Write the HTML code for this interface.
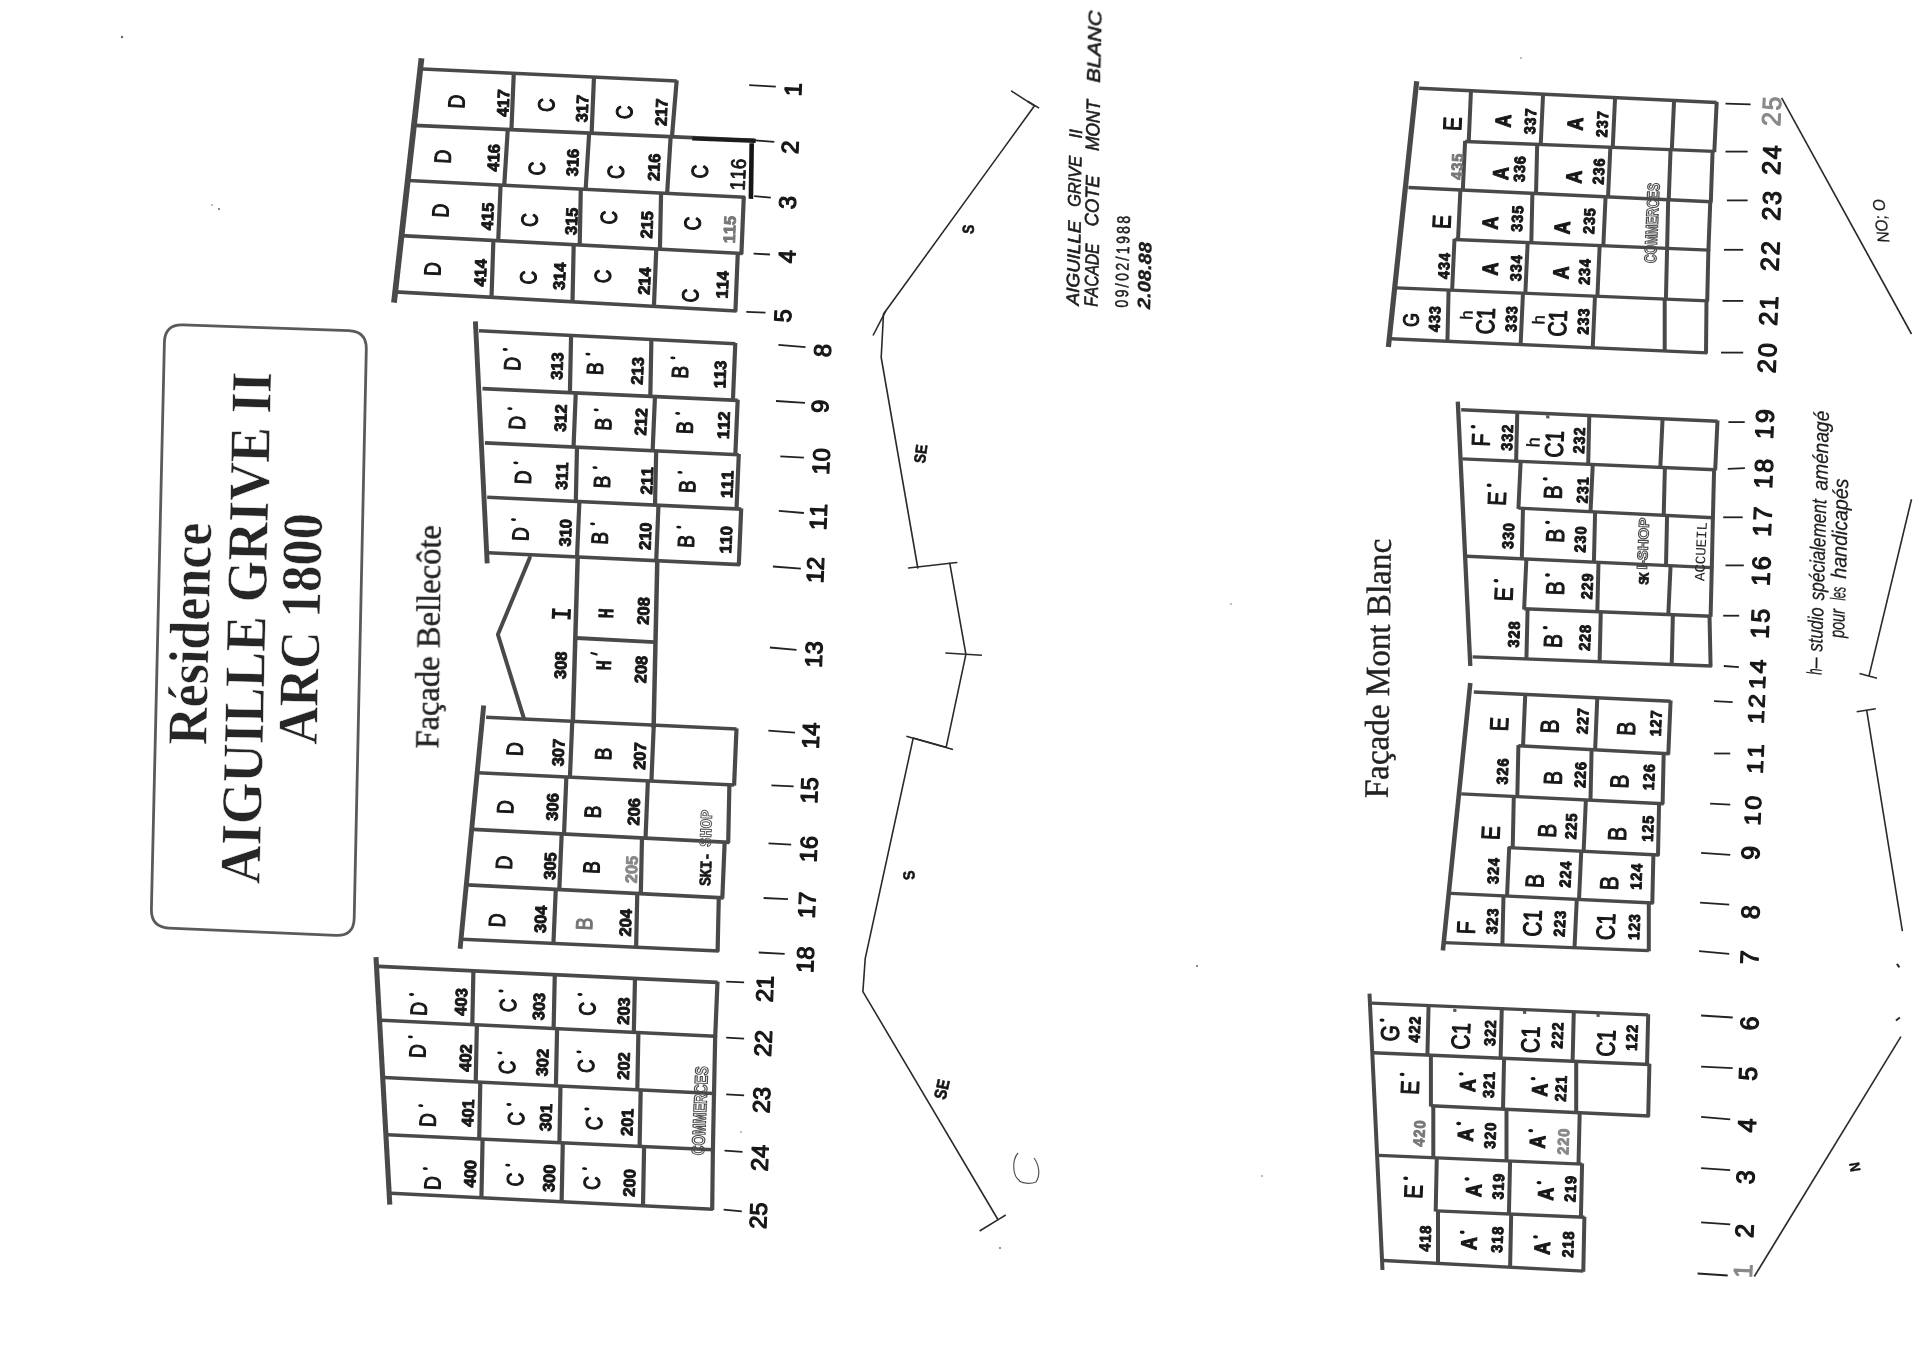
<!DOCTYPE html>
<html><head><meta charset="utf-8"><title>Aiguille Grive II</title>
<style>
html,body{margin:0;padding:0;background:#fff;}
body{width:1920px;height:1355px;overflow:hidden;font-family:"Liberation Sans",sans-serif;}
svg{display:block;}
svg text{font-kerning:none;}
</style></head><body>
<svg width="1920" height="1355" viewBox="0 0 1920 1355">
<defs><filter id="bl" x="-5%" y="-5%" width="110%" height="110%"><feGaussianBlur stdDeviation="0.45"/></filter></defs>
<rect width="1920" height="1355" fill="#fff"/>
<g filter="url(#bl)">
<line x1="422.7" y1="69" x2="676.7" y2="81" stroke="#4a4a4a" stroke-width="3.6" stroke-linecap="butt"/>
<line x1="513.8" y1="72.6" x2="511.4" y2="130.4" stroke="#4a4a4a" stroke-width="4.2" stroke-linecap="butt"/>
<line x1="594" y1="76.4" x2="591.6" y2="133.9" stroke="#4a4a4a" stroke-width="4.2" stroke-linecap="butt"/>
<line x1="676.7" y1="80.3" x2="671.9" y2="137.5" stroke="#4a4a4a" stroke-width="4.2" stroke-linecap="butt"/>
<line x1="414.3" y1="125.4" x2="754.5" y2="140.4" stroke="#4a4a4a" stroke-width="3.6" stroke-linecap="butt"/>
<line x1="507.8" y1="128.8" x2="504.2" y2="185.9" stroke="#4a4a4a" stroke-width="4.2" stroke-linecap="butt"/>
<line x1="589.2" y1="132.4" x2="585.6" y2="190" stroke="#4a4a4a" stroke-width="4.2" stroke-linecap="butt"/>
<line x1="670.7" y1="136" x2="667.1" y2="194.1" stroke="#4a4a4a" stroke-width="4.2" stroke-linecap="butt"/>
<line x1="408.4" y1="180.5" x2="745" y2="197.2" stroke="#4a4a4a" stroke-width="3.6" stroke-linecap="butt"/>
<line x1="500.6" y1="184.3" x2="498.2" y2="241.4" stroke="#4a4a4a" stroke-width="4.2" stroke-linecap="butt"/>
<line x1="580.8" y1="188.3" x2="579.7" y2="245.7" stroke="#4a4a4a" stroke-width="4.2" stroke-linecap="butt"/>
<line x1="661.1" y1="192.3" x2="659.9" y2="249.9" stroke="#4a4a4a" stroke-width="4.2" stroke-linecap="butt"/>
<line x1="743.8" y1="196.4" x2="741.4" y2="254.2" stroke="#4a4a4a" stroke-width="4.2" stroke-linecap="butt"/>
<line x1="401.2" y1="235.6" x2="742.6" y2="253.5" stroke="#4a4a4a" stroke-width="3.6" stroke-linecap="butt"/>
<line x1="493.4" y1="239.7" x2="491.5" y2="298" stroke="#4a4a4a" stroke-width="4.2" stroke-linecap="butt"/>
<line x1="573.7" y1="243.9" x2="572.5" y2="302.5" stroke="#4a4a4a" stroke-width="4.2" stroke-linecap="butt"/>
<line x1="656.3" y1="248.3" x2="653.9" y2="307.1" stroke="#4a4a4a" stroke-width="4.2" stroke-linecap="butt"/>
<line x1="737.8" y1="252.6" x2="735.4" y2="311.7" stroke="#4a4a4a" stroke-width="4.2" stroke-linecap="butt"/>
<line x1="395.2" y1="291.9" x2="736.6" y2="311" stroke="#4a4a4a" stroke-width="3.6" stroke-linecap="butt"/>
<line x1="421.5" y1="58.3" x2="394" y2="302.6" stroke="#4a4a4a" stroke-width="5.8" stroke-linecap="butt"/>
<line x1="692.3" y1="138.5" x2="755.7" y2="140.9" stroke="#1a1a1a" stroke-width="4.2" stroke-linecap="butt"/>
<line x1="751.7" y1="143.3" x2="750.9" y2="198.9" stroke="#161616" stroke-width="4.6" stroke-linecap="butt"/>
<text transform="translate(456.3,101.4) rotate(-87.4) scale(1.000,1.220)" font-family="Liberation Sans" font-size="19" text-anchor="middle" y="6.8" fill="#151515" stroke="#151515" stroke-width="0.9" stroke-linejoin="round">D</text>
<text transform="translate(546.1,105) rotate(-87.4) scale(1.000,1.220)" font-family="Liberation Sans" font-size="19" text-anchor="middle" y="6.8" fill="#151515" stroke="#151515" stroke-width="0.9" stroke-linejoin="round">C</text>
<text transform="translate(624,112.2) rotate(-87.4) scale(1.000,1.220)" font-family="Liberation Sans" font-size="19" text-anchor="middle" y="6.8" fill="#151515" stroke="#151515" stroke-width="0.9" stroke-linejoin="round">C</text>
<text transform="translate(442.6,156.5) rotate(-87.4) scale(1.000,1.220)" font-family="Liberation Sans" font-size="19" text-anchor="middle" y="6.8" fill="#151515" stroke="#151515" stroke-width="0.9" stroke-linejoin="round">D</text>
<text transform="translate(536.5,168.5) rotate(-87.4) scale(1.000,1.220)" font-family="Liberation Sans" font-size="19" text-anchor="middle" y="6.8" fill="#151515" stroke="#151515" stroke-width="0.9" stroke-linejoin="round">C</text>
<text transform="translate(615.6,172.1) rotate(-87.4) scale(1.000,1.220)" font-family="Liberation Sans" font-size="19" text-anchor="middle" y="6.8" fill="#151515" stroke="#151515" stroke-width="0.9" stroke-linejoin="round">C</text>
<text transform="translate(699.4,171.6) rotate(-87.4) scale(1.000,1.220)" font-family="Liberation Sans" font-size="19" text-anchor="middle" y="6.8" fill="#151515" stroke="#151515" stroke-width="0.9" stroke-linejoin="round">C</text>
<text transform="translate(440.2,210.4) rotate(-87.4) scale(1.000,1.220)" font-family="Liberation Sans" font-size="19" text-anchor="middle" y="6.8" fill="#151515" stroke="#151515" stroke-width="0.9" stroke-linejoin="round">D</text>
<text transform="translate(529.3,220) rotate(-87.4) scale(1.000,1.220)" font-family="Liberation Sans" font-size="19" text-anchor="middle" y="6.8" fill="#151515" stroke="#151515" stroke-width="0.9" stroke-linejoin="round">C</text>
<text transform="translate(608.4,217.6) rotate(-87.4) scale(1.000,1.220)" font-family="Liberation Sans" font-size="19" text-anchor="middle" y="6.8" fill="#151515" stroke="#151515" stroke-width="0.9" stroke-linejoin="round">C</text>
<text transform="translate(692.3,223.6) rotate(-87.4) scale(1.000,1.220)" font-family="Liberation Sans" font-size="19" text-anchor="middle" y="6.8" fill="#151515" stroke="#151515" stroke-width="0.9" stroke-linejoin="round">C</text>
<text transform="translate(432.3,269.1) rotate(-87.4) scale(1.000,1.220)" font-family="Liberation Sans" font-size="19" text-anchor="middle" y="6.8" fill="#151515" stroke="#151515" stroke-width="0.9" stroke-linejoin="round">D</text>
<text transform="translate(528.1,277.5) rotate(-87.4) scale(1.000,1.220)" font-family="Liberation Sans" font-size="19" text-anchor="middle" y="6.8" fill="#151515" stroke="#151515" stroke-width="0.9" stroke-linejoin="round">C</text>
<text transform="translate(602.4,276.3) rotate(-87.4) scale(1.000,1.220)" font-family="Liberation Sans" font-size="19" text-anchor="middle" y="6.8" fill="#151515" stroke="#151515" stroke-width="0.9" stroke-linejoin="round">C</text>
<text transform="translate(689.9,295.5) rotate(-87.4) scale(1.000,1.220)" font-family="Liberation Sans" font-size="19" text-anchor="middle" y="6.8" fill="#151515" stroke="#151515" stroke-width="0.9" stroke-linejoin="round">C</text>
<text transform="translate(503,103.1) rotate(-87.4)" font-family="Liberation Sans" font-size="16.5" text-anchor="middle" y="5.9" fill="#151515" font-weight="bold" stroke="#151515" stroke-width="0.9" stroke-linejoin="round">417</text>
<text transform="translate(582,108.6) rotate(-87.4)" font-family="Liberation Sans" font-size="16.5" text-anchor="middle" y="5.9" fill="#151515" font-weight="bold" stroke="#151515" stroke-width="0.9" stroke-linejoin="round">317</text>
<text transform="translate(661.1,112.2) rotate(-87.4)" font-family="Liberation Sans" font-size="16.5" text-anchor="middle" y="5.9" fill="#151515" font-weight="bold" stroke="#151515" stroke-width="0.9" stroke-linejoin="round">217</text>
<text transform="translate(493.4,157.7) rotate(-87.4)" font-family="Liberation Sans" font-size="16.5" text-anchor="middle" y="5.9" fill="#151515" font-weight="bold" stroke="#151515" stroke-width="0.9" stroke-linejoin="round">416</text>
<text transform="translate(572.5,162.5) rotate(-87.4)" font-family="Liberation Sans" font-size="16.5" text-anchor="middle" y="5.9" fill="#151515" font-weight="bold" stroke="#151515" stroke-width="0.9" stroke-linejoin="round">316</text>
<text transform="translate(653.9,167.3) rotate(-87.4)" font-family="Liberation Sans" font-size="16.5" text-anchor="middle" y="5.9" fill="#151515" font-weight="bold" stroke="#151515" stroke-width="0.9" stroke-linejoin="round">216</text>
<text transform="translate(487.4,216.4) rotate(-87.4)" font-family="Liberation Sans" font-size="16.5" text-anchor="middle" y="5.9" fill="#151515" font-weight="bold" stroke="#151515" stroke-width="0.9" stroke-linejoin="round">415</text>
<text transform="translate(571.3,221.2) rotate(-87.4)" font-family="Liberation Sans" font-size="16.5" text-anchor="middle" y="5.9" fill="#151515" font-weight="bold" stroke="#151515" stroke-width="0.9" stroke-linejoin="round">315</text>
<text transform="translate(646.7,224.8) rotate(-87.4)" font-family="Liberation Sans" font-size="16.5" text-anchor="middle" y="5.9" fill="#151515" font-weight="bold" stroke="#151515" stroke-width="0.9" stroke-linejoin="round">215</text>
<text transform="translate(480.2,272.7) rotate(-87.4)" font-family="Liberation Sans" font-size="16.5" text-anchor="middle" y="5.9" fill="#151515" font-weight="bold" stroke="#151515" stroke-width="0.9" stroke-linejoin="round">414</text>
<text transform="translate(559.3,276.3) rotate(-87.4)" font-family="Liberation Sans" font-size="16.5" text-anchor="middle" y="5.9" fill="#151515" font-weight="bold" stroke="#151515" stroke-width="0.9" stroke-linejoin="round">314</text>
<text transform="translate(644.3,281.1) rotate(-87.4)" font-family="Liberation Sans" font-size="16.5" text-anchor="middle" y="5.9" fill="#151515" font-weight="bold" stroke="#151515" stroke-width="0.9" stroke-linejoin="round">214</text>
<text transform="translate(722.2,284.7) rotate(-87.4)" font-family="Liberation Sans" font-size="16.5" text-anchor="middle" y="5.9" fill="#151515" font-weight="bold" stroke="#151515" stroke-width="0.9" stroke-linejoin="round">114</text>
<text transform="translate(729.4,229.6) rotate(-87.4)" font-family="Liberation Sans" font-size="16.5" text-anchor="middle" y="5.9" fill="#777" font-weight="bold" stroke="#777" stroke-width="0.9" stroke-linejoin="round">115</text>
<text transform="translate(737.8,174.5) rotate(-87.4) scale(1.000,1.100)" font-family="Liberation Sans" font-size="19" text-anchor="middle" y="6.8" fill="#151515" stroke="#151515" stroke-width="0.8" stroke-linejoin="round">116</text>
<line x1="479" y1="330.7" x2="735.3" y2="343.7" stroke="#4a4a4a" stroke-width="3.6" stroke-linecap="butt"/>
<line x1="571.1" y1="334.7" x2="569.9" y2="393.3" stroke="#4a4a4a" stroke-width="4.2" stroke-linecap="butt"/>
<line x1="651.4" y1="338.7" x2="650.3" y2="397.1" stroke="#4a4a4a" stroke-width="4.2" stroke-linecap="butt"/>
<line x1="735.3" y1="343" x2="732.9" y2="400.9" stroke="#4a4a4a" stroke-width="4.2" stroke-linecap="butt"/>
<line x1="482.5" y1="388.6" x2="737.7" y2="400.4" stroke="#4a4a4a" stroke-width="3.6" stroke-linecap="butt"/>
<line x1="575.8" y1="392.2" x2="573.5" y2="447.8" stroke="#4a4a4a" stroke-width="4.2" stroke-linecap="butt"/>
<line x1="655" y1="395.9" x2="652.6" y2="451.4" stroke="#4a4a4a" stroke-width="4.2" stroke-linecap="butt"/>
<line x1="737.7" y1="399.7" x2="735.3" y2="455.3" stroke="#4a4a4a" stroke-width="4.2" stroke-linecap="butt"/>
<line x1="484.9" y1="442.9" x2="738.8" y2="454.7" stroke="#4a4a4a" stroke-width="3.6" stroke-linecap="butt"/>
<line x1="577" y1="446.5" x2="575.8" y2="502.1" stroke="#4a4a4a" stroke-width="4.2" stroke-linecap="butt"/>
<line x1="656.2" y1="450.2" x2="655" y2="505.8" stroke="#4a4a4a" stroke-width="4.2" stroke-linecap="butt"/>
<line x1="738.8" y1="454" x2="736.5" y2="509.6" stroke="#4a4a4a" stroke-width="4.2" stroke-linecap="butt"/>
<line x1="487.2" y1="497.3" x2="741.2" y2="509.1" stroke="#4a4a4a" stroke-width="3.6" stroke-linecap="butt"/>
<line x1="579.4" y1="500.8" x2="577" y2="557.6" stroke="#4a4a4a" stroke-width="4.2" stroke-linecap="butt"/>
<line x1="658.5" y1="504.5" x2="656.2" y2="561.4" stroke="#4a4a4a" stroke-width="4.2" stroke-linecap="butt"/>
<line x1="741.2" y1="508.4" x2="738.8" y2="565.2" stroke="#4a4a4a" stroke-width="4.2" stroke-linecap="butt"/>
<line x1="488.4" y1="552.8" x2="740" y2="564.6" stroke="#4a4a4a" stroke-width="3.6" stroke-linecap="butt"/>
<line x1="475.4" y1="321.3" x2="487.2" y2="563.4" stroke="#4a4a4a" stroke-width="4.9" stroke-linecap="butt"/>
<text transform="translate(512.1,363.8) rotate(-87.4) scale(1.000,1.220)" font-family="Liberation Sans" font-size="19" text-anchor="middle" y="6.8" fill="#151515" stroke="#151515" stroke-width="0.9" stroke-linejoin="round">D</text>
<ellipse cx="505.2" cy="349.5" rx="2.6" ry="1.4" fill="#151515" transform="rotate(2.6 505.2 349.5)"/>
<text transform="translate(594.7,368.5) rotate(-87.4) scale(1.000,1.220)" font-family="Liberation Sans" font-size="19" text-anchor="middle" y="6.8" fill="#151515" stroke="#151515" stroke-width="0.9" stroke-linejoin="round">B</text>
<ellipse cx="587.9" cy="354.2" rx="2.6" ry="1.4" fill="#151515" transform="rotate(2.6 587.9 354.2)"/>
<text transform="translate(679.8,372.1) rotate(-87.4) scale(1.000,1.220)" font-family="Liberation Sans" font-size="19" text-anchor="middle" y="6.8" fill="#151515" stroke="#151515" stroke-width="0.9" stroke-linejoin="round">B</text>
<ellipse cx="672.9" cy="357.8" rx="2.6" ry="1.4" fill="#151515" transform="rotate(2.6 672.9 357.8)"/>
<text transform="translate(516.8,422.8) rotate(-87.4) scale(1.000,1.220)" font-family="Liberation Sans" font-size="19" text-anchor="middle" y="6.8" fill="#151515" stroke="#151515" stroke-width="0.9" stroke-linejoin="round">D</text>
<ellipse cx="509.9" cy="408.6" rx="2.6" ry="1.4" fill="#151515" transform="rotate(2.6 509.9 408.6)"/>
<text transform="translate(603,424) rotate(-87.4) scale(1.000,1.220)" font-family="Liberation Sans" font-size="19" text-anchor="middle" y="6.8" fill="#151515" stroke="#151515" stroke-width="0.9" stroke-linejoin="round">B</text>
<ellipse cx="596.2" cy="409.8" rx="2.6" ry="1.4" fill="#151515" transform="rotate(2.6 596.2 409.8)"/>
<text transform="translate(684.5,427.6) rotate(-87.4) scale(1.000,1.220)" font-family="Liberation Sans" font-size="19" text-anchor="middle" y="6.8" fill="#151515" stroke="#151515" stroke-width="0.9" stroke-linejoin="round">B</text>
<ellipse cx="677.7" cy="413.3" rx="2.6" ry="1.4" fill="#151515" transform="rotate(2.6 677.7 413.3)"/>
<text transform="translate(522.7,477.2) rotate(-87.4) scale(1.000,1.220)" font-family="Liberation Sans" font-size="19" text-anchor="middle" y="6.8" fill="#151515" stroke="#151515" stroke-width="0.9" stroke-linejoin="round">D</text>
<ellipse cx="515.8" cy="462.9" rx="2.6" ry="1.4" fill="#151515" transform="rotate(2.6 515.8 462.9)"/>
<text transform="translate(601.8,481.9) rotate(-87.4) scale(1.000,1.220)" font-family="Liberation Sans" font-size="19" text-anchor="middle" y="6.8" fill="#151515" stroke="#151515" stroke-width="0.9" stroke-linejoin="round">B</text>
<ellipse cx="595" cy="467.6" rx="2.6" ry="1.4" fill="#151515" transform="rotate(2.6 595 467.6)"/>
<text transform="translate(686.9,486.6) rotate(-87.4) scale(1.000,1.220)" font-family="Liberation Sans" font-size="19" text-anchor="middle" y="6.8" fill="#151515" stroke="#151515" stroke-width="0.9" stroke-linejoin="round">B</text>
<ellipse cx="680" cy="472.4" rx="2.6" ry="1.4" fill="#151515" transform="rotate(2.6 680 472.4)"/>
<text transform="translate(520.3,533.9) rotate(-87.4) scale(1.000,1.220)" font-family="Liberation Sans" font-size="19" text-anchor="middle" y="6.8" fill="#151515" stroke="#151515" stroke-width="0.9" stroke-linejoin="round">D</text>
<ellipse cx="513.5" cy="519.6" rx="2.6" ry="1.4" fill="#151515" transform="rotate(2.6 513.5 519.6)"/>
<text transform="translate(599.5,538.1) rotate(-87.4) scale(1.000,1.220)" font-family="Liberation Sans" font-size="19" text-anchor="middle" y="6.8" fill="#151515" stroke="#151515" stroke-width="0.9" stroke-linejoin="round">B</text>
<ellipse cx="592.6" cy="523.9" rx="2.6" ry="1.4" fill="#151515" transform="rotate(2.6 592.6 523.9)"/>
<text transform="translate(685.7,541.4) rotate(-87.4) scale(1.000,1.220)" font-family="Liberation Sans" font-size="19" text-anchor="middle" y="6.8" fill="#151515" stroke="#151515" stroke-width="0.9" stroke-linejoin="round">B</text>
<ellipse cx="678.8" cy="527.2" rx="2.6" ry="1.4" fill="#151515" transform="rotate(2.6 678.8 527.2)"/>
<text transform="translate(556.9,366.1) rotate(-87.4)" font-family="Liberation Sans" font-size="16.5" text-anchor="middle" y="5.9" fill="#151515" font-weight="bold" stroke="#151515" stroke-width="0.9" stroke-linejoin="round">313</text>
<text transform="translate(637.3,370.9) rotate(-87.4)" font-family="Liberation Sans" font-size="16.5" text-anchor="middle" y="5.9" fill="#151515" font-weight="bold" stroke="#151515" stroke-width="0.9" stroke-linejoin="round">213</text>
<text transform="translate(719.9,374.4) rotate(-87.4)" font-family="Liberation Sans" font-size="16.5" text-anchor="middle" y="5.9" fill="#151515" font-weight="bold" stroke="#151515" stroke-width="0.9" stroke-linejoin="round">113</text>
<text transform="translate(560.5,418.1) rotate(-87.4)" font-family="Liberation Sans" font-size="16.5" text-anchor="middle" y="5.9" fill="#151515" font-weight="bold" stroke="#151515" stroke-width="0.9" stroke-linejoin="round">312</text>
<text transform="translate(640.8,421.7) rotate(-87.4)" font-family="Liberation Sans" font-size="16.5" text-anchor="middle" y="5.9" fill="#151515" font-weight="bold" stroke="#151515" stroke-width="0.9" stroke-linejoin="round">212</text>
<text transform="translate(723.5,425.2) rotate(-87.4)" font-family="Liberation Sans" font-size="16.5" text-anchor="middle" y="5.9" fill="#151515" font-weight="bold" stroke="#151515" stroke-width="0.9" stroke-linejoin="round">112</text>
<text transform="translate(561.7,476) rotate(-87.4)" font-family="Liberation Sans" font-size="16.5" text-anchor="middle" y="5.9" fill="#151515" font-weight="bold" stroke="#151515" stroke-width="0.9" stroke-linejoin="round">311</text>
<text transform="translate(646.7,480.7) rotate(-87.4)" font-family="Liberation Sans" font-size="16.5" text-anchor="middle" y="5.9" fill="#151515" font-weight="bold" stroke="#151515" stroke-width="0.9" stroke-linejoin="round">211</text>
<text transform="translate(727,484.3) rotate(-87.4)" font-family="Liberation Sans" font-size="16.5" text-anchor="middle" y="5.9" fill="#151515" font-weight="bold" stroke="#151515" stroke-width="0.9" stroke-linejoin="round">111</text>
<text transform="translate(565.2,532.7) rotate(-87.4)" font-family="Liberation Sans" font-size="16.5" text-anchor="middle" y="5.9" fill="#151515" font-weight="bold" stroke="#151515" stroke-width="0.9" stroke-linejoin="round">310</text>
<text transform="translate(645.1,536.2) rotate(-87.4)" font-family="Liberation Sans" font-size="16.5" text-anchor="middle" y="5.9" fill="#151515" font-weight="bold" stroke="#151515" stroke-width="0.9" stroke-linejoin="round">210</text>
<text transform="translate(725.8,539.8) rotate(-87.4)" font-family="Liberation Sans" font-size="16.5" text-anchor="middle" y="5.9" fill="#151515" font-weight="bold" stroke="#151515" stroke-width="0.9" stroke-linejoin="round">110</text>
<line x1="577.7" y1="556.5" x2="572.8" y2="723.1" stroke="#4a4a4a" stroke-width="4.5" stroke-linecap="butt"/>
<line x1="657.3" y1="560.1" x2="653.6" y2="727.8" stroke="#4a4a4a" stroke-width="4.5" stroke-linecap="butt"/>
<line x1="576.5" y1="638" x2="654.5" y2="642.1" stroke="#4a4a4a" stroke-width="3.9" stroke-linecap="butt"/>
<polyline points="529.8,557.7 497.9,634.5 523.9,718.4" fill="none" stroke="#4a4a4a" stroke-width="4" stroke-linejoin="round" stroke-linecap="round"/>
<text transform="translate(560.5,613.9) rotate(-87.4) scale(1.000,1.250)" font-family="Liberation Mono" font-size="23" text-anchor="middle" y="8.2" fill="#151515" font-weight="bold">I</text>
<text transform="translate(605.4,613.2) rotate(-87.4) scale(1.000,1.300)" font-family="Liberation Mono" font-size="17" text-anchor="middle" y="6.1" fill="#151515" font-weight="bold" stroke="#151515" stroke-width="0.4" stroke-linejoin="round">H</text>
<text transform="translate(603,665.2) rotate(-87.4) scale(1.000,1.300)" font-family="Liberation Mono" font-size="17" text-anchor="middle" y="6.1" fill="#151515" font-weight="bold" stroke="#151515" stroke-width="0.4" stroke-linejoin="round">H</text>
<line x1="591.4" y1="653" x2="596.6" y2="654.4" stroke="#1a1a1a" stroke-width="2.2" stroke-linecap="round"/>
<text transform="translate(560.5,665.2) rotate(-87.4)" font-family="Liberation Sans" font-size="16.5" text-anchor="middle" y="5.9" fill="#151515" font-weight="bold" stroke="#151515" stroke-width="0.9" stroke-linejoin="round">308</text>
<text transform="translate(643.2,610.9) rotate(-87.4)" font-family="Liberation Sans" font-size="16.5" text-anchor="middle" y="5.9" fill="#151515" font-weight="bold" stroke="#151515" stroke-width="0.9" stroke-linejoin="round">208</text>
<text transform="translate(640.8,669.5) rotate(-87.4)" font-family="Liberation Sans" font-size="16.5" text-anchor="middle" y="5.9" fill="#151515" font-weight="bold" stroke="#151515" stroke-width="0.9" stroke-linejoin="round">208</text>
<line x1="486.1" y1="717.2" x2="736.5" y2="729" stroke="#4a4a4a" stroke-width="3.6" stroke-linecap="butt"/>
<line x1="572.3" y1="720.5" x2="569.9" y2="777.8" stroke="#4a4a4a" stroke-width="4.2" stroke-linecap="butt"/>
<line x1="653.8" y1="724.4" x2="651.4" y2="781.7" stroke="#4a4a4a" stroke-width="4.2" stroke-linecap="butt"/>
<line x1="736.5" y1="728.3" x2="734.1" y2="785.7" stroke="#4a4a4a" stroke-width="4.2" stroke-linecap="butt"/>
<line x1="477.8" y1="772.7" x2="734.1" y2="785" stroke="#4a4a4a" stroke-width="3.6" stroke-linecap="butt"/>
<line x1="566.4" y1="776.2" x2="564" y2="834.7" stroke="#4a4a4a" stroke-width="4.2" stroke-linecap="butt"/>
<line x1="647.9" y1="780.1" x2="645.5" y2="838.8" stroke="#4a4a4a" stroke-width="4.2" stroke-linecap="butt"/>
<line x1="729.4" y1="784" x2="728.2" y2="843" stroke="#4a4a4a" stroke-width="4.2" stroke-linecap="butt"/>
<line x1="473.1" y1="829.4" x2="729.4" y2="842.4" stroke="#4a4a4a" stroke-width="3.6" stroke-linecap="butt"/>
<line x1="561.7" y1="833.2" x2="559.3" y2="890.3" stroke="#4a4a4a" stroke-width="4.2" stroke-linecap="butt"/>
<line x1="642" y1="837.2" x2="640.8" y2="894.4" stroke="#4a4a4a" stroke-width="4.2" stroke-linecap="butt"/>
<line x1="724.7" y1="841.4" x2="722.3" y2="898.5" stroke="#4a4a4a" stroke-width="4.2" stroke-linecap="butt"/>
<line x1="467.2" y1="884.9" x2="723.5" y2="897.9" stroke="#4a4a4a" stroke-width="3.6" stroke-linecap="butt"/>
<line x1="555.8" y1="888.7" x2="553.4" y2="944.1" stroke="#4a4a4a" stroke-width="4.2" stroke-linecap="butt"/>
<line x1="637.3" y1="892.8" x2="636.1" y2="947.9" stroke="#4a4a4a" stroke-width="4.2" stroke-linecap="butt"/>
<line x1="718.8" y1="896.9" x2="717.6" y2="951.7" stroke="#4a4a4a" stroke-width="4.2" stroke-linecap="butt"/>
<line x1="462.4" y1="939.2" x2="718.8" y2="951" stroke="#4a4a4a" stroke-width="3.6" stroke-linecap="butt"/>
<line x1="483.7" y1="705.4" x2="460.1" y2="948.7" stroke="#4a4a4a" stroke-width="4.9" stroke-linecap="butt"/>
<text transform="translate(514.4,749.1) rotate(-87.4) scale(1.000,1.220)" font-family="Liberation Sans" font-size="19" text-anchor="middle" y="6.8" fill="#151515" stroke="#151515" stroke-width="0.9" stroke-linejoin="round">D</text>
<text transform="translate(603,753.8) rotate(-87.4) scale(1.000,1.220)" font-family="Liberation Sans" font-size="19" text-anchor="middle" y="6.8" fill="#151515" stroke="#151515" stroke-width="0.9" stroke-linejoin="round">B</text>
<text transform="translate(505,806.9) rotate(-87.4) scale(1.000,1.220)" font-family="Liberation Sans" font-size="19" text-anchor="middle" y="6.8" fill="#151515" stroke="#151515" stroke-width="0.9" stroke-linejoin="round">D</text>
<text transform="translate(592.4,811.7) rotate(-87.4) scale(1.000,1.220)" font-family="Liberation Sans" font-size="19" text-anchor="middle" y="6.8" fill="#151515" stroke="#151515" stroke-width="0.9" stroke-linejoin="round">B</text>
<text transform="translate(503.8,862.5) rotate(-87.4) scale(1.000,1.220)" font-family="Liberation Sans" font-size="19" text-anchor="middle" y="6.8" fill="#151515" stroke="#151515" stroke-width="0.9" stroke-linejoin="round">D</text>
<text transform="translate(591.2,867.2) rotate(-87.4) scale(1.000,1.220)" font-family="Liberation Sans" font-size="19" text-anchor="middle" y="6.8" fill="#151515" stroke="#151515" stroke-width="0.9" stroke-linejoin="round">B</text>
<text transform="translate(496.7,920.3) rotate(-87.4) scale(1.000,1.220)" font-family="Liberation Sans" font-size="19" text-anchor="middle" y="6.8" fill="#151515" stroke="#151515" stroke-width="0.9" stroke-linejoin="round">D</text>
<text transform="translate(584.1,923.9) rotate(-87.4) scale(1.000,1.220)" font-family="Liberation Sans" font-size="19" text-anchor="middle" y="6.8" fill="#151515" opacity="0.6" stroke="#151515" stroke-width="0.9" stroke-linejoin="round">B</text>
<text transform="translate(558.1,752.6) rotate(-87.4)" font-family="Liberation Sans" font-size="16.5" text-anchor="middle" y="5.9" fill="#151515" font-weight="bold" stroke="#151515" stroke-width="0.9" stroke-linejoin="round">307</text>
<text transform="translate(639.6,756.1) rotate(-87.4)" font-family="Liberation Sans" font-size="16.5" text-anchor="middle" y="5.9" fill="#151515" font-weight="bold" stroke="#151515" stroke-width="0.9" stroke-linejoin="round">207</text>
<text transform="translate(552.2,806.9) rotate(-87.4)" font-family="Liberation Sans" font-size="16.5" text-anchor="middle" y="5.9" fill="#151515" font-weight="bold" stroke="#151515" stroke-width="0.9" stroke-linejoin="round">306</text>
<text transform="translate(633.7,811.7) rotate(-87.4)" font-family="Liberation Sans" font-size="16.5" text-anchor="middle" y="5.9" fill="#151515" font-weight="bold" stroke="#151515" stroke-width="0.9" stroke-linejoin="round">206</text>
<text transform="translate(549.9,866) rotate(-87.4)" font-family="Liberation Sans" font-size="16.5" text-anchor="middle" y="5.9" fill="#151515" font-weight="bold" stroke="#151515" stroke-width="0.9" stroke-linejoin="round">305</text>
<text transform="translate(540.4,919.2) rotate(-87.4)" font-family="Liberation Sans" font-size="16.5" text-anchor="middle" y="5.9" fill="#151515" font-weight="bold" stroke="#151515" stroke-width="0.9" stroke-linejoin="round">304</text>
<text transform="translate(625.4,922.7) rotate(-87.4)" font-family="Liberation Sans" font-size="16.5" text-anchor="middle" y="5.9" fill="#151515" font-weight="bold" stroke="#151515" stroke-width="0.9" stroke-linejoin="round">204</text>
<text transform="translate(631.4,869.5) rotate(-87.4)" font-family="Liberation Sans" font-size="16.5" text-anchor="middle" y="5.9" fill="#888" font-weight="bold" stroke="#888" stroke-width="0.9" stroke-linejoin="round">205</text>
<text transform="translate(705.2,869) rotate(-87.4) scale(1.000,1.100)" font-family="Liberation Mono" font-size="15" text-anchor="middle" y="5.4" fill="#1a1a1a" font-weight="bold" textLength="34" lengthAdjust="spacing" stroke="#1a1a1a" stroke-width="0.5" stroke-linejoin="round">SKI-</text>
<text transform="translate(705.8,828.3) rotate(-87.4) scale(1,1.1)" font-family="Liberation Mono" font-weight="bold" font-size="15" text-anchor="middle" y="5" fill="none" stroke="#555" stroke-width="0.9" textLength="37" lengthAdjust="spacingAndGlyphs">SHOP</text>
<line x1="378.3" y1="966.4" x2="717.5" y2="982.4" stroke="#4a4a4a" stroke-width="3.6" stroke-linecap="butt"/>
<line x1="473.4" y1="970.2" x2="472.3" y2="1025.2" stroke="#4a4a4a" stroke-width="4.2" stroke-linecap="butt"/>
<line x1="554.8" y1="974" x2="553.6" y2="1029.2" stroke="#4a4a4a" stroke-width="4.2" stroke-linecap="butt"/>
<line x1="635" y1="977.8" x2="633.8" y2="1033" stroke="#4a4a4a" stroke-width="4.2" stroke-linecap="butt"/>
<line x1="717.5" y1="981.7" x2="715.2" y2="1036.9" stroke="#4a4a4a" stroke-width="4.2" stroke-linecap="butt"/>
<line x1="381.8" y1="1020.2" x2="715.2" y2="1036.2" stroke="#4a4a4a" stroke-width="3.6" stroke-linecap="butt"/>
<line x1="476.9" y1="1024.1" x2="475.7" y2="1082.6" stroke="#4a4a4a" stroke-width="4.2" stroke-linecap="butt"/>
<line x1="557.1" y1="1027.9" x2="555.9" y2="1086.5" stroke="#4a4a4a" stroke-width="4.2" stroke-linecap="butt"/>
<line x1="638.4" y1="1031.9" x2="637.3" y2="1090.5" stroke="#4a4a4a" stroke-width="4.2" stroke-linecap="butt"/>
<line x1="715.2" y1="1035.6" x2="714" y2="1094.2" stroke="#4a4a4a" stroke-width="4.2" stroke-linecap="butt"/>
<line x1="384.1" y1="1077.5" x2="714" y2="1093.5" stroke="#4a4a4a" stroke-width="3.6" stroke-linecap="butt"/>
<line x1="480.3" y1="1081.5" x2="479.2" y2="1139.7" stroke="#4a4a4a" stroke-width="4.2" stroke-linecap="butt"/>
<line x1="560.5" y1="1085.4" x2="559.4" y2="1143.3" stroke="#4a4a4a" stroke-width="4.2" stroke-linecap="butt"/>
<line x1="640.7" y1="1089.3" x2="639.6" y2="1147" stroke="#4a4a4a" stroke-width="4.2" stroke-linecap="butt"/>
<line x1="714" y1="1092.8" x2="712.9" y2="1150.4" stroke="#4a4a4a" stroke-width="4.2" stroke-linecap="butt"/>
<line x1="387.5" y1="1134.8" x2="712.9" y2="1149.7" stroke="#4a4a4a" stroke-width="3.6" stroke-linecap="butt"/>
<line x1="482.6" y1="1138.4" x2="481.4" y2="1198.4" stroke="#4a4a4a" stroke-width="4.2" stroke-linecap="butt"/>
<line x1="562.8" y1="1142.1" x2="561.6" y2="1202.4" stroke="#4a4a4a" stroke-width="4.2" stroke-linecap="butt"/>
<line x1="644.1" y1="1145.8" x2="643" y2="1206.5" stroke="#4a4a4a" stroke-width="4.2" stroke-linecap="butt"/>
<line x1="712.9" y1="1149" x2="712.2" y2="1209.9" stroke="#4a4a4a" stroke-width="4.2" stroke-linecap="butt"/>
<line x1="390.9" y1="1193.2" x2="712.9" y2="1209.2" stroke="#4a4a4a" stroke-width="3.6" stroke-linecap="butt"/>
<line x1="376" y1="957.2" x2="389.8" y2="1204.7" stroke="#4a4a4a" stroke-width="5.1" stroke-linecap="butt"/>
<text transform="translate(418.4,1008.7) rotate(-87.4) scale(1.000,1.220)" font-family="Liberation Sans" font-size="19" text-anchor="middle" y="6.8" fill="#151515" stroke="#151515" stroke-width="0.9" stroke-linejoin="round">D</text>
<ellipse cx="411.6" cy="994.5" rx="2.6" ry="1.4" fill="#151515" transform="rotate(2.6 411.6 994.5)"/>
<text transform="translate(507.8,1005.3) rotate(-87.4) scale(1.000,1.220)" font-family="Liberation Sans" font-size="19" text-anchor="middle" y="6.8" fill="#151515" stroke="#151515" stroke-width="0.9" stroke-linejoin="round">C</text>
<ellipse cx="501" cy="991" rx="2.6" ry="1.4" fill="#151515" transform="rotate(2.6 501 991)"/>
<text transform="translate(586.9,1008.7) rotate(-87.4) scale(1.000,1.220)" font-family="Liberation Sans" font-size="19" text-anchor="middle" y="6.8" fill="#151515" stroke="#151515" stroke-width="0.9" stroke-linejoin="round">C</text>
<ellipse cx="580" cy="994.5" rx="2.6" ry="1.4" fill="#151515" transform="rotate(2.6 580 994.5)"/>
<text transform="translate(417.3,1051.1) rotate(-87.4) scale(1.000,1.220)" font-family="Liberation Sans" font-size="19" text-anchor="middle" y="6.8" fill="#151515" stroke="#151515" stroke-width="0.9" stroke-linejoin="round">D</text>
<ellipse cx="410.4" cy="1036.9" rx="2.6" ry="1.4" fill="#151515" transform="rotate(2.6 410.4 1036.9)"/>
<text transform="translate(506.7,1067.2) rotate(-87.4) scale(1.000,1.220)" font-family="Liberation Sans" font-size="19" text-anchor="middle" y="6.8" fill="#151515" stroke="#151515" stroke-width="0.9" stroke-linejoin="round">C</text>
<ellipse cx="499.8" cy="1052.9" rx="2.6" ry="1.4" fill="#151515" transform="rotate(2.6 499.8 1052.9)"/>
<text transform="translate(585.7,1066) rotate(-87.4) scale(1.000,1.220)" font-family="Liberation Sans" font-size="19" text-anchor="middle" y="6.8" fill="#151515" stroke="#151515" stroke-width="0.9" stroke-linejoin="round">C</text>
<ellipse cx="578.9" cy="1051.8" rx="2.6" ry="1.4" fill="#151515" transform="rotate(2.6 578.9 1051.8)"/>
<text transform="translate(427.6,1119.9) rotate(-87.4) scale(1.000,1.220)" font-family="Liberation Sans" font-size="19" text-anchor="middle" y="6.8" fill="#151515" stroke="#151515" stroke-width="0.9" stroke-linejoin="round">D</text>
<ellipse cx="420.8" cy="1105.6" rx="2.6" ry="1.4" fill="#151515" transform="rotate(2.6 420.8 1105.6)"/>
<text transform="translate(515.8,1118.7) rotate(-87.4) scale(1.000,1.220)" font-family="Liberation Sans" font-size="19" text-anchor="middle" y="6.8" fill="#151515" stroke="#151515" stroke-width="0.9" stroke-linejoin="round">C</text>
<ellipse cx="509" cy="1104.5" rx="2.6" ry="1.4" fill="#151515" transform="rotate(2.6 509 1104.5)"/>
<text transform="translate(593.7,1123.3) rotate(-87.4) scale(1.000,1.220)" font-family="Liberation Sans" font-size="19" text-anchor="middle" y="6.8" fill="#151515" stroke="#151515" stroke-width="0.9" stroke-linejoin="round">C</text>
<ellipse cx="586.9" cy="1109" rx="2.6" ry="1.4" fill="#151515" transform="rotate(2.6 586.9 1109)"/>
<text transform="translate(432.2,1182.9) rotate(-87.4) scale(1.000,1.220)" font-family="Liberation Sans" font-size="19" text-anchor="middle" y="6.8" fill="#151515" stroke="#151515" stroke-width="0.9" stroke-linejoin="round">D</text>
<ellipse cx="425.3" cy="1168.6" rx="2.6" ry="1.4" fill="#151515" transform="rotate(2.6 425.3 1168.6)"/>
<text transform="translate(514.7,1179.5) rotate(-87.4) scale(1.000,1.220)" font-family="Liberation Sans" font-size="19" text-anchor="middle" y="6.8" fill="#151515" stroke="#151515" stroke-width="0.9" stroke-linejoin="round">C</text>
<ellipse cx="507.8" cy="1165.2" rx="2.6" ry="1.4" fill="#151515" transform="rotate(2.6 507.8 1165.2)"/>
<text transform="translate(591.4,1182.9) rotate(-87.4) scale(1.000,1.220)" font-family="Liberation Sans" font-size="19" text-anchor="middle" y="6.8" fill="#151515" stroke="#151515" stroke-width="0.9" stroke-linejoin="round">C</text>
<ellipse cx="584.6" cy="1168.6" rx="2.6" ry="1.4" fill="#151515" transform="rotate(2.6 584.6 1168.6)"/>
<text transform="translate(460.8,1001.9) rotate(-87.4)" font-family="Liberation Sans" font-size="16.5" text-anchor="middle" y="5.9" fill="#151515" font-weight="bold" stroke="#151515" stroke-width="0.9" stroke-linejoin="round">403</text>
<text transform="translate(538.7,1006.5) rotate(-87.4)" font-family="Liberation Sans" font-size="16.5" text-anchor="middle" y="5.9" fill="#151515" font-weight="bold" stroke="#151515" stroke-width="0.9" stroke-linejoin="round">303</text>
<text transform="translate(623.5,1011) rotate(-87.4)" font-family="Liberation Sans" font-size="16.5" text-anchor="middle" y="5.9" fill="#151515" font-weight="bold" stroke="#151515" stroke-width="0.9" stroke-linejoin="round">203</text>
<text transform="translate(465.4,1058) rotate(-87.4)" font-family="Liberation Sans" font-size="16.5" text-anchor="middle" y="5.9" fill="#151515" font-weight="bold" stroke="#151515" stroke-width="0.9" stroke-linejoin="round">402</text>
<text transform="translate(542.2,1062.6) rotate(-87.4)" font-family="Liberation Sans" font-size="16.5" text-anchor="middle" y="5.9" fill="#151515" font-weight="bold" stroke="#151515" stroke-width="0.9" stroke-linejoin="round">302</text>
<text transform="translate(623.5,1066) rotate(-87.4)" font-family="Liberation Sans" font-size="16.5" text-anchor="middle" y="5.9" fill="#151515" font-weight="bold" stroke="#151515" stroke-width="0.9" stroke-linejoin="round">202</text>
<text transform="translate(467.7,1113) rotate(-87.4)" font-family="Liberation Sans" font-size="16.5" text-anchor="middle" y="5.9" fill="#151515" font-weight="bold" stroke="#151515" stroke-width="0.9" stroke-linejoin="round">401</text>
<text transform="translate(545.6,1117.6) rotate(-87.4)" font-family="Liberation Sans" font-size="16.5" text-anchor="middle" y="5.9" fill="#151515" font-weight="bold" stroke="#151515" stroke-width="0.9" stroke-linejoin="round">301</text>
<text transform="translate(627,1122.2) rotate(-87.4)" font-family="Liberation Sans" font-size="16.5" text-anchor="middle" y="5.9" fill="#151515" font-weight="bold" stroke="#151515" stroke-width="0.9" stroke-linejoin="round">201</text>
<text transform="translate(470,1173.7) rotate(-87.4)" font-family="Liberation Sans" font-size="16.5" text-anchor="middle" y="5.9" fill="#151515" font-weight="bold" stroke="#151515" stroke-width="0.9" stroke-linejoin="round">400</text>
<text transform="translate(549,1178.3) rotate(-87.4)" font-family="Liberation Sans" font-size="16.5" text-anchor="middle" y="5.9" fill="#151515" font-weight="bold" stroke="#151515" stroke-width="0.9" stroke-linejoin="round">300</text>
<text transform="translate(629.2,1182.9) rotate(-87.4)" font-family="Liberation Sans" font-size="16.5" text-anchor="middle" y="5.9" fill="#151515" font-weight="bold" stroke="#151515" stroke-width="0.9" stroke-linejoin="round">200</text>
<text transform="translate(699.6,1110.7) rotate(-87.4) scale(1,1.2)" font-family="Liberation Sans" font-weight="bold" font-size="15" text-anchor="middle" y="5.4" fill="none" stroke="#4a4a4a" stroke-width="1.0" textLength="89" lengthAdjust="spacingAndGlyphs">COMMERCES</text>
<line x1="1419.1" y1="88.3" x2="1716.7" y2="102.5" stroke="#4a4a4a" stroke-width="3.4" stroke-linecap="butt"/>
<line x1="1471" y1="90.1" x2="1468.7" y2="142.3" stroke="#4a4a4a" stroke-width="4" stroke-linecap="butt"/>
<line x1="1543.1" y1="93.5" x2="1540.7" y2="145.2" stroke="#4a4a4a" stroke-width="4" stroke-linecap="butt"/>
<line x1="1615.1" y1="97" x2="1612.7" y2="148.1" stroke="#4a4a4a" stroke-width="4" stroke-linecap="butt"/>
<line x1="1674.1" y1="99.8" x2="1671.8" y2="150.4" stroke="#4a4a4a" stroke-width="4" stroke-linecap="butt"/>
<line x1="1716.7" y1="101.8" x2="1714.3" y2="152.1" stroke="#4a4a4a" stroke-width="4" stroke-linecap="butt"/>
<line x1="1465.1" y1="141.5" x2="1714.3" y2="151.4" stroke="#4a4a4a" stroke-width="3.4" stroke-linecap="butt"/>
<line x1="1465.1" y1="140.8" x2="1462.8" y2="190.8" stroke="#4a4a4a" stroke-width="4" stroke-linecap="butt"/>
<line x1="1537.2" y1="143.6" x2="1536" y2="194.2" stroke="#4a4a4a" stroke-width="4" stroke-linecap="butt"/>
<line x1="1610.4" y1="146.6" x2="1608" y2="197.6" stroke="#4a4a4a" stroke-width="4" stroke-linecap="butt"/>
<line x1="1670.6" y1="149" x2="1668.7" y2="200.4" stroke="#4a4a4a" stroke-width="4" stroke-linecap="butt"/>
<line x1="1712.6" y1="150.6" x2="1710.8" y2="202.4" stroke="#4a4a4a" stroke-width="4" stroke-linecap="butt"/>
<line x1="1408.4" y1="187.5" x2="1711.2" y2="201.7" stroke="#4a4a4a" stroke-width="3.4" stroke-linecap="butt"/>
<line x1="1460.4" y1="189.3" x2="1458" y2="240.4" stroke="#4a4a4a" stroke-width="4" stroke-linecap="butt"/>
<line x1="1532.4" y1="192.6" x2="1531.3" y2="243.4" stroke="#4a4a4a" stroke-width="4" stroke-linecap="butt"/>
<line x1="1605.6" y1="196.1" x2="1603.3" y2="246.4" stroke="#4a4a4a" stroke-width="4" stroke-linecap="butt"/>
<line x1="1668.2" y1="199" x2="1667.1" y2="249.1" stroke="#4a4a4a" stroke-width="4" stroke-linecap="butt"/>
<line x1="1710.3" y1="201" x2="1708.4" y2="250.8" stroke="#4a4a4a" stroke-width="4" stroke-linecap="butt"/>
<line x1="1454.5" y1="239.5" x2="1708.9" y2="250.1" stroke="#4a4a4a" stroke-width="3.4" stroke-linecap="butt"/>
<line x1="1454.5" y1="238.8" x2="1452.1" y2="290.9" stroke="#4a4a4a" stroke-width="4" stroke-linecap="butt"/>
<line x1="1527.7" y1="241.8" x2="1525.3" y2="294" stroke="#4a4a4a" stroke-width="4" stroke-linecap="butt"/>
<line x1="1599.7" y1="244.9" x2="1597.4" y2="297" stroke="#4a4a4a" stroke-width="4" stroke-linecap="butt"/>
<line x1="1667.1" y1="247.7" x2="1665.9" y2="299.9" stroke="#4a4a4a" stroke-width="4" stroke-linecap="butt"/>
<line x1="1708.4" y1="249.4" x2="1707.2" y2="301.6" stroke="#4a4a4a" stroke-width="4" stroke-linecap="butt"/>
<line x1="1396.6" y1="287.9" x2="1707.7" y2="300.9" stroke="#4a4a4a" stroke-width="3.4" stroke-linecap="butt"/>
<line x1="1448.6" y1="289.4" x2="1447.4" y2="341.9" stroke="#4a4a4a" stroke-width="4" stroke-linecap="butt"/>
<line x1="1523" y1="292.5" x2="1520.6" y2="345.2" stroke="#4a4a4a" stroke-width="4" stroke-linecap="butt"/>
<line x1="1595" y1="295.5" x2="1592.7" y2="348.4" stroke="#4a4a4a" stroke-width="4" stroke-linecap="butt"/>
<line x1="1664.7" y1="298.4" x2="1664.7" y2="351.7" stroke="#4a4a4a" stroke-width="4" stroke-linecap="butt"/>
<line x1="1706.5" y1="300.1" x2="1706" y2="353.5" stroke="#4a4a4a" stroke-width="4" stroke-linecap="butt"/>
<line x1="1390.7" y1="338.7" x2="1707.2" y2="352.9" stroke="#4a4a4a" stroke-width="3.4" stroke-linecap="butt"/>
<line x1="1416.7" y1="81.3" x2="1388.4" y2="347" stroke="#4a4a4a" stroke-width="5.2" stroke-linecap="butt"/>
<text transform="translate(1452.1,123.8) rotate(-87.4) scale(1.000,1.220)" font-family="Liberation Sans" font-size="21" text-anchor="middle" y="7.5" fill="#151515" stroke="#151515" stroke-width="0.9" stroke-linejoin="round">E</text>
<text transform="translate(1502.9,120.9) rotate(-87.4) scale(1.000,1.220)" font-family="Liberation Sans" font-size="18" text-anchor="middle" y="6.4" fill="#151515" font-weight="bold" stroke="#151515" stroke-width="0.9" stroke-linejoin="round">A</text>
<text transform="translate(1574.9,123.8) rotate(-87.4) scale(1.000,1.220)" font-family="Liberation Sans" font-size="18" text-anchor="middle" y="6.4" fill="#151515" font-weight="bold" stroke="#151515" stroke-width="0.9" stroke-linejoin="round">A</text>
<text transform="translate(1500.5,173.4) rotate(-87.4) scale(1.000,1.220)" font-family="Liberation Sans" font-size="18" text-anchor="middle" y="6.4" fill="#151515" font-weight="bold" stroke="#151515" stroke-width="0.9" stroke-linejoin="round">A</text>
<text transform="translate(1573.8,176.9) rotate(-87.4) scale(1.000,1.220)" font-family="Liberation Sans" font-size="18" text-anchor="middle" y="6.4" fill="#151515" font-weight="bold" stroke="#151515" stroke-width="0.9" stroke-linejoin="round">A</text>
<text transform="translate(1441.5,221.8) rotate(-87.4) scale(1.000,1.220)" font-family="Liberation Sans" font-size="21" text-anchor="middle" y="7.5" fill="#151515" stroke="#151515" stroke-width="0.9" stroke-linejoin="round">E</text>
<text transform="translate(1489.9,223) rotate(-87.4) scale(1.000,1.220)" font-family="Liberation Sans" font-size="18" text-anchor="middle" y="6.4" fill="#151515" font-weight="bold" stroke="#151515" stroke-width="0.9" stroke-linejoin="round">A</text>
<text transform="translate(1562,227.7) rotate(-87.4) scale(1.000,1.220)" font-family="Liberation Sans" font-size="18" text-anchor="middle" y="6.4" fill="#151515" font-weight="bold" stroke="#151515" stroke-width="0.9" stroke-linejoin="round">A</text>
<text transform="translate(1489.9,269) rotate(-87.4) scale(1.000,1.220)" font-family="Liberation Sans" font-size="18" text-anchor="middle" y="6.4" fill="#151515" font-weight="bold" stroke="#151515" stroke-width="0.9" stroke-linejoin="round">A</text>
<text transform="translate(1560.8,272.6) rotate(-87.4) scale(1.000,1.220)" font-family="Liberation Sans" font-size="18" text-anchor="middle" y="6.4" fill="#151515" font-weight="bold" stroke="#151515" stroke-width="0.9" stroke-linejoin="round">A</text>
<text transform="translate(1410.8,319.8) rotate(-87.4) scale(1.000,1.220)" font-family="Liberation Sans" font-size="18" text-anchor="middle" y="6.4" fill="#151515" stroke="#151515" stroke-width="0.9" stroke-linejoin="round">G</text>
<text transform="translate(1485.2,321) rotate(-87.4) scale(1.000,1.220)" font-family="Liberation Sans" font-size="21" text-anchor="middle" y="7.5" fill="#151515" stroke="#151515" stroke-width="0.9" stroke-linejoin="round">C1</text>
<text transform="translate(1557.2,323.3) rotate(-87.4) scale(1.000,1.220)" font-family="Liberation Sans" font-size="21" text-anchor="middle" y="7.5" fill="#151515" stroke="#151515" stroke-width="0.9" stroke-linejoin="round">C1</text>
<text transform="translate(1466.3,315.1) rotate(-87.4)" font-family="Liberation Sans" font-size="17" text-anchor="middle" y="6.1" fill="#151515" stroke="#151515" stroke-width="0.5" stroke-linejoin="round">h</text>
<text transform="translate(1538.3,319.8) rotate(-87.4)" font-family="Liberation Sans" font-size="17" text-anchor="middle" y="6.1" fill="#151515" stroke="#151515" stroke-width="0.5" stroke-linejoin="round">h</text>
<text transform="translate(1530.1,120.9) rotate(-87.4) scale(1.000,1.080)" font-family="Liberation Sans" font-size="14.5" text-anchor="middle" y="5.2" fill="#151515" font-weight="bold" letter-spacing="0.9" stroke="#151515" stroke-width="0.9" stroke-linejoin="round">337</text>
<text transform="translate(1602.1,123.8) rotate(-87.4) scale(1.000,1.080)" font-family="Liberation Sans" font-size="14.5" text-anchor="middle" y="5.2" fill="#151515" font-weight="bold" letter-spacing="0.9" stroke="#151515" stroke-width="0.9" stroke-linejoin="round">237</text>
<text transform="translate(1519.4,168.6) rotate(-87.4) scale(1.000,1.080)" font-family="Liberation Sans" font-size="14.5" text-anchor="middle" y="5.2" fill="#151515" font-weight="bold" letter-spacing="0.9" stroke="#151515" stroke-width="0.9" stroke-linejoin="round">336</text>
<text transform="translate(1598.6,171) rotate(-87.4) scale(1.000,1.080)" font-family="Liberation Sans" font-size="14.5" text-anchor="middle" y="5.2" fill="#151515" font-weight="bold" letter-spacing="0.9" stroke="#151515" stroke-width="0.9" stroke-linejoin="round">236</text>
<text transform="translate(1517.1,218.2) rotate(-87.4) scale(1.000,1.080)" font-family="Liberation Sans" font-size="14.5" text-anchor="middle" y="5.2" fill="#151515" font-weight="bold" letter-spacing="0.9" stroke="#151515" stroke-width="0.9" stroke-linejoin="round">335</text>
<text transform="translate(1589.1,220.6) rotate(-87.4) scale(1.000,1.080)" font-family="Liberation Sans" font-size="14.5" text-anchor="middle" y="5.2" fill="#151515" font-weight="bold" letter-spacing="0.9" stroke="#151515" stroke-width="0.9" stroke-linejoin="round">235</text>
<text transform="translate(1515.9,267.8) rotate(-87.4) scale(1.000,1.080)" font-family="Liberation Sans" font-size="14.5" text-anchor="middle" y="5.2" fill="#151515" font-weight="bold" letter-spacing="0.9" stroke="#151515" stroke-width="0.9" stroke-linejoin="round">334</text>
<text transform="translate(1584.4,271.4) rotate(-87.4) scale(1.000,1.080)" font-family="Liberation Sans" font-size="14.5" text-anchor="middle" y="5.2" fill="#151515" font-weight="bold" letter-spacing="0.9" stroke="#151515" stroke-width="0.9" stroke-linejoin="round">234</text>
<text transform="translate(1434.4,318.6) rotate(-87.4) scale(1.000,1.080)" font-family="Liberation Sans" font-size="14.5" text-anchor="middle" y="5.2" fill="#151515" font-weight="bold" letter-spacing="0.9" stroke="#151515" stroke-width="0.9" stroke-linejoin="round">433</text>
<text transform="translate(1511.2,318.6) rotate(-87.4) scale(1.000,1.080)" font-family="Liberation Sans" font-size="14.5" text-anchor="middle" y="5.2" fill="#151515" font-weight="bold" letter-spacing="0.9" stroke="#151515" stroke-width="0.9" stroke-linejoin="round">333</text>
<text transform="translate(1583.2,321) rotate(-87.4) scale(1.000,1.080)" font-family="Liberation Sans" font-size="14.5" text-anchor="middle" y="5.2" fill="#151515" font-weight="bold" letter-spacing="0.9" stroke="#151515" stroke-width="0.9" stroke-linejoin="round">233</text>
<text transform="translate(1443.9,265.5) rotate(-87.4) scale(1.000,1.080)" font-family="Liberation Sans" font-size="14.5" text-anchor="middle" y="5.2" fill="#151515" font-weight="bold" letter-spacing="0.9" stroke="#151515" stroke-width="0.9" stroke-linejoin="round">434</text>
<text transform="translate(1456.9,166.3) rotate(-87.4) scale(1.000,1.080)" font-family="Liberation Sans" font-size="14.5" text-anchor="middle" y="5.2" fill="#777" font-weight="bold" letter-spacing="0.9" stroke="#777" stroke-width="0.9" stroke-linejoin="round">435</text>
<text transform="translate(1651.7,223) rotate(-87.4) scale(1,1.2)" font-family="Liberation Sans" font-weight="bold" font-size="14" text-anchor="middle" y="5.0" fill="none" stroke="#4a4a4a" stroke-width="1.0" textLength="80" lengthAdjust="spacingAndGlyphs">COMMERCES</text>
<line x1="1461.2" y1="409.7" x2="1717.5" y2="421.2" stroke="#4a4a4a" stroke-width="3.4" stroke-linecap="butt"/>
<line x1="1517.3" y1="411.6" x2="1516.1" y2="461.9" stroke="#4a4a4a" stroke-width="4" stroke-linecap="butt"/>
<line x1="1589.3" y1="414.8" x2="1588.2" y2="465" stroke="#4a4a4a" stroke-width="4" stroke-linecap="butt"/>
<line x1="1662.6" y1="418.1" x2="1660.3" y2="468.1" stroke="#4a4a4a" stroke-width="4" stroke-linecap="butt"/>
<line x1="1717.5" y1="420.5" x2="1715.2" y2="470.4" stroke="#4a4a4a" stroke-width="4" stroke-linecap="butt"/>
<line x1="1462.3" y1="458.9" x2="1715.2" y2="469.7" stroke="#4a4a4a" stroke-width="3.4" stroke-linecap="butt"/>
<line x1="1520.7" y1="460.7" x2="1518.4" y2="508.8" stroke="#4a4a4a" stroke-width="4" stroke-linecap="butt"/>
<line x1="1592.8" y1="463.8" x2="1590.5" y2="512.4" stroke="#4a4a4a" stroke-width="4" stroke-linecap="butt"/>
<line x1="1664.9" y1="466.9" x2="1663.7" y2="516" stroke="#4a4a4a" stroke-width="4" stroke-linecap="butt"/>
<line x1="1714.1" y1="469" x2="1712.9" y2="518.4" stroke="#4a4a4a" stroke-width="4" stroke-linecap="butt"/>
<line x1="1518.4" y1="508.1" x2="1713.4" y2="517.8" stroke="#4a4a4a" stroke-width="3.4" stroke-linecap="butt"/>
<line x1="1523" y1="507.7" x2="1521.8" y2="559.4" stroke="#4a4a4a" stroke-width="4" stroke-linecap="butt"/>
<line x1="1595.1" y1="511.2" x2="1593.9" y2="562.8" stroke="#4a4a4a" stroke-width="4" stroke-linecap="butt"/>
<line x1="1667.1" y1="514.8" x2="1666" y2="566.2" stroke="#4a4a4a" stroke-width="4" stroke-linecap="butt"/>
<line x1="1712.9" y1="517" x2="1711.8" y2="568.3" stroke="#4a4a4a" stroke-width="4" stroke-linecap="butt"/>
<line x1="1466.9" y1="556.2" x2="1712.2" y2="567.6" stroke="#4a4a4a" stroke-width="3.4" stroke-linecap="butt"/>
<line x1="1526.4" y1="558.3" x2="1524.1" y2="609.5" stroke="#4a4a4a" stroke-width="4" stroke-linecap="butt"/>
<line x1="1598.5" y1="561.7" x2="1597.3" y2="612.4" stroke="#4a4a4a" stroke-width="4" stroke-linecap="butt"/>
<line x1="1670.6" y1="565" x2="1668.3" y2="615.2" stroke="#4a4a4a" stroke-width="4" stroke-linecap="butt"/>
<line x1="1711.8" y1="566.9" x2="1710.6" y2="616.8" stroke="#4a4a4a" stroke-width="4" stroke-linecap="butt"/>
<line x1="1524.1" y1="608.8" x2="1711.1" y2="616.2" stroke="#4a4a4a" stroke-width="3.4" stroke-linecap="butt"/>
<line x1="1527.6" y1="608.3" x2="1526.4" y2="659.6" stroke="#4a4a4a" stroke-width="4" stroke-linecap="butt"/>
<line x1="1600.8" y1="611.1" x2="1599.6" y2="662.4" stroke="#4a4a4a" stroke-width="4" stroke-linecap="butt"/>
<line x1="1672.9" y1="614" x2="1671.7" y2="665.2" stroke="#4a4a4a" stroke-width="4" stroke-linecap="butt"/>
<line x1="1709.5" y1="615.4" x2="1710.6" y2="666.7" stroke="#4a4a4a" stroke-width="4" stroke-linecap="butt"/>
<line x1="1472.6" y1="656.9" x2="1711.8" y2="666" stroke="#4a4a4a" stroke-width="3.4" stroke-linecap="butt"/>
<line x1="1457.8" y1="401.7" x2="1470.3" y2="666" stroke="#4a4a4a" stroke-width="4.3" stroke-linecap="butt"/>
<text transform="translate(1480.6,440) rotate(-87.4) scale(1.000,1.220)" font-family="Liberation Sans" font-size="21" text-anchor="middle" y="7.5" fill="#151515" stroke="#151515" stroke-width="0.9" stroke-linejoin="round">F</text>
<ellipse cx="1473.1" cy="426.7" rx="2.5" ry="1.7" fill="#151515" transform="rotate(2.6 1473.1 426.7)"/>
<text transform="translate(1496.7,498.5) rotate(-87.4) scale(1.000,1.220)" font-family="Liberation Sans" font-size="21" text-anchor="middle" y="7.5" fill="#151515" stroke="#151515" stroke-width="0.9" stroke-linejoin="round">E</text>
<ellipse cx="1489.1" cy="485.3" rx="2.5" ry="1.7" fill="#151515" transform="rotate(2.6 1489.1 485.3)"/>
<text transform="translate(1552.7,492.1) rotate(-87.4) scale(1.000,1.220)" font-family="Liberation Sans" font-size="21" text-anchor="middle" y="7.5" fill="#151515" stroke="#151515" stroke-width="0.9" stroke-linejoin="round">B</text>
<ellipse cx="1545.2" cy="478.9" rx="2.5" ry="1.7" fill="#151515" transform="rotate(2.6 1545.2 478.9)"/>
<text transform="translate(1555,535.6) rotate(-87.4) scale(1.000,1.220)" font-family="Liberation Sans" font-size="21" text-anchor="middle" y="7.5" fill="#151515" stroke="#151515" stroke-width="0.9" stroke-linejoin="round">B</text>
<ellipse cx="1547.5" cy="522.4" rx="2.5" ry="1.7" fill="#151515" transform="rotate(2.6 1547.5 522.4)"/>
<text transform="translate(1503.5,594) rotate(-87.4) scale(1.000,1.220)" font-family="Liberation Sans" font-size="21" text-anchor="middle" y="7.5" fill="#151515" stroke="#151515" stroke-width="0.9" stroke-linejoin="round">E</text>
<ellipse cx="1496" cy="580.7" rx="2.5" ry="1.7" fill="#151515" transform="rotate(2.6 1496 580.7)"/>
<text transform="translate(1555,588.2) rotate(-87.4) scale(1.000,1.220)" font-family="Liberation Sans" font-size="21" text-anchor="middle" y="7.5" fill="#151515" stroke="#151515" stroke-width="0.9" stroke-linejoin="round">B</text>
<ellipse cx="1547.5" cy="575" rx="2.5" ry="1.7" fill="#151515" transform="rotate(2.6 1547.5 575)"/>
<text transform="translate(1552.7,640.9) rotate(-87.4) scale(1.000,1.220)" font-family="Liberation Sans" font-size="21" text-anchor="middle" y="7.5" fill="#151515" stroke="#151515" stroke-width="0.9" stroke-linejoin="round">B</text>
<ellipse cx="1545.2" cy="627.6" rx="2.5" ry="1.7" fill="#151515" transform="rotate(2.6 1545.2 627.6)"/>
<text transform="translate(1553.9,444.1) rotate(-87.4) scale(1.000,1.220)" font-family="Liberation Sans" font-size="21" text-anchor="middle" y="7.5" fill="#151515" stroke="#151515" stroke-width="0.9" stroke-linejoin="round">C1</text>
<text transform="translate(1533.2,442.1) rotate(-87.4)" font-family="Liberation Sans" font-size="18" text-anchor="middle" y="6.4" fill="#151515" stroke="#151515" stroke-width="0.5" stroke-linejoin="round">h</text>
<text transform="translate(1507,437.2) rotate(-87.4) scale(1.000,1.080)" font-family="Liberation Sans" font-size="14.5" text-anchor="middle" y="5.2" fill="#151515" font-weight="bold" letter-spacing="0.9" stroke="#151515" stroke-width="0.9" stroke-linejoin="round">332</text>
<text transform="translate(1579,440) rotate(-87.4) scale(1.000,1.080)" font-family="Liberation Sans" font-size="14.5" text-anchor="middle" y="5.2" fill="#151515" font-weight="bold" letter-spacing="0.9" stroke="#151515" stroke-width="0.9" stroke-linejoin="round">232</text>
<text transform="translate(1508.1,535.6) rotate(-87.4) scale(1.000,1.080)" font-family="Liberation Sans" font-size="14.5" text-anchor="middle" y="5.2" fill="#151515" font-weight="bold" letter-spacing="0.9" stroke="#151515" stroke-width="0.9" stroke-linejoin="round">330</text>
<text transform="translate(1582.5,489.8) rotate(-87.4) scale(1.000,1.080)" font-family="Liberation Sans" font-size="14.5" text-anchor="middle" y="5.2" fill="#151515" font-weight="bold" letter-spacing="0.9" stroke="#151515" stroke-width="0.9" stroke-linejoin="round">231</text>
<text transform="translate(1580.2,539) rotate(-87.4) scale(1.000,1.080)" font-family="Liberation Sans" font-size="14.5" text-anchor="middle" y="5.2" fill="#151515" font-weight="bold" letter-spacing="0.9" stroke="#151515" stroke-width="0.9" stroke-linejoin="round">230</text>
<text transform="translate(1513.8,634) rotate(-87.4) scale(1.000,1.080)" font-family="Liberation Sans" font-size="14.5" text-anchor="middle" y="5.2" fill="#151515" font-weight="bold" letter-spacing="0.9" stroke="#151515" stroke-width="0.9" stroke-linejoin="round">328</text>
<text transform="translate(1587,585.9) rotate(-87.4) scale(1.000,1.080)" font-family="Liberation Sans" font-size="14.5" text-anchor="middle" y="5.2" fill="#151515" font-weight="bold" letter-spacing="0.9" stroke="#151515" stroke-width="0.9" stroke-linejoin="round">229</text>
<text transform="translate(1584.8,637.4) rotate(-87.4) scale(1.000,1.080)" font-family="Liberation Sans" font-size="14.5" text-anchor="middle" y="5.2" fill="#151515" font-weight="bold" letter-spacing="0.9" stroke="#151515" stroke-width="0.9" stroke-linejoin="round">228</text>
<text transform="translate(1643.4,578.5) rotate(-87.4) scale(1.000,1.100)" font-family="Liberation Mono" font-size="13" text-anchor="middle" y="4.7" fill="#1a1a1a" font-weight="bold" textLength="12.5" lengthAdjust="spacing" stroke="#1a1a1a" stroke-width="0.5" stroke-linejoin="round">SK</text>
<text transform="translate(1642.8,543.6) rotate(-87.4) scale(1,1.1)" font-family="Liberation Sans" font-weight="bold" font-size="13" text-anchor="middle" y="4.7" fill="none" stroke="#4a4a4a" stroke-width="1.0" textLength="52" lengthAdjust="spacingAndGlyphs">I-SHOP</text>
<text transform="translate(1700.3,551.6) rotate(-87.4)" font-family="Liberation Mono" font-size="14.5" text-anchor="middle" y="5.2" fill="#222" letter-spacing="-0.3">ACCUEIL</text>
<line x1="1473.8" y1="692" x2="1670.6" y2="701.2" stroke="#4a4a4a" stroke-width="3.4" stroke-linecap="butt"/>
<line x1="1525.3" y1="693.7" x2="1523" y2="746.7" stroke="#4a4a4a" stroke-width="4" stroke-linecap="butt"/>
<line x1="1597.3" y1="697.1" x2="1595.1" y2="750.6" stroke="#4a4a4a" stroke-width="4" stroke-linecap="butt"/>
<line x1="1670.6" y1="700.5" x2="1668.3" y2="754.4" stroke="#4a4a4a" stroke-width="4" stroke-linecap="butt"/>
<line x1="1518.4" y1="745.8" x2="1669.4" y2="753.8" stroke="#4a4a4a" stroke-width="3.4" stroke-linecap="butt"/>
<line x1="1518.4" y1="745.1" x2="1517.3" y2="797.3" stroke="#4a4a4a" stroke-width="4" stroke-linecap="butt"/>
<line x1="1591.6" y1="749" x2="1590.5" y2="800.8" stroke="#4a4a4a" stroke-width="4" stroke-linecap="butt"/>
<line x1="1663.7" y1="752.8" x2="1662.6" y2="804.3" stroke="#4a4a4a" stroke-width="4" stroke-linecap="butt"/>
<line x1="1461.2" y1="793.9" x2="1663.7" y2="803.7" stroke="#4a4a4a" stroke-width="3.4" stroke-linecap="butt"/>
<line x1="1513.8" y1="795.7" x2="1512.7" y2="848.6" stroke="#4a4a4a" stroke-width="4" stroke-linecap="butt"/>
<line x1="1585.9" y1="799.2" x2="1583.6" y2="852" stroke="#4a4a4a" stroke-width="4" stroke-linecap="butt"/>
<line x1="1659.1" y1="802.8" x2="1658" y2="855.6" stroke="#4a4a4a" stroke-width="4" stroke-linecap="butt"/>
<line x1="1508.1" y1="847.6" x2="1659.1" y2="855" stroke="#4a4a4a" stroke-width="3.4" stroke-linecap="butt"/>
<line x1="1509.2" y1="847" x2="1507" y2="896.8" stroke="#4a4a4a" stroke-width="4" stroke-linecap="butt"/>
<line x1="1581.3" y1="850.5" x2="1579" y2="900.2" stroke="#4a4a4a" stroke-width="4" stroke-linecap="butt"/>
<line x1="1653.4" y1="854" x2="1652.3" y2="903.7" stroke="#4a4a4a" stroke-width="4" stroke-linecap="butt"/>
<line x1="1450.9" y1="893.4" x2="1653.4" y2="903" stroke="#4a4a4a" stroke-width="3.4" stroke-linecap="butt"/>
<line x1="1503.5" y1="895.2" x2="1502.4" y2="945.6" stroke="#4a4a4a" stroke-width="4" stroke-linecap="butt"/>
<line x1="1576.8" y1="898.7" x2="1574.5" y2="948.4" stroke="#4a4a4a" stroke-width="4" stroke-linecap="butt"/>
<line x1="1648.8" y1="902.1" x2="1648.8" y2="951.3" stroke="#4a4a4a" stroke-width="4" stroke-linecap="butt"/>
<line x1="1444" y1="942.6" x2="1648.8" y2="950.6" stroke="#4a4a4a" stroke-width="3.4" stroke-linecap="butt"/>
<line x1="1470.3" y1="682.9" x2="1442.9" y2="950.6" stroke="#4a4a4a" stroke-width="4.6" stroke-linecap="butt"/>
<text transform="translate(1498.9,724.1) rotate(-87.4) scale(1.000,1.220)" font-family="Liberation Sans" font-size="21" text-anchor="middle" y="7.5" fill="#151515" stroke="#151515" stroke-width="0.9" stroke-linejoin="round">E</text>
<text transform="translate(1549.3,726.4) rotate(-87.4) scale(1.000,1.220)" font-family="Liberation Sans" font-size="21" text-anchor="middle" y="7.5" fill="#151515" stroke="#151515" stroke-width="0.9" stroke-linejoin="round">B</text>
<text transform="translate(1625.9,728.6) rotate(-87.4) scale(1.000,1.220)" font-family="Liberation Sans" font-size="21" text-anchor="middle" y="7.5" fill="#151515" stroke="#151515" stroke-width="0.9" stroke-linejoin="round">B</text>
<text transform="translate(1552.7,777.8) rotate(-87.4) scale(1.000,1.220)" font-family="Liberation Sans" font-size="21" text-anchor="middle" y="7.5" fill="#151515" stroke="#151515" stroke-width="0.9" stroke-linejoin="round">B</text>
<text transform="translate(1619.1,781.3) rotate(-87.4) scale(1.000,1.220)" font-family="Liberation Sans" font-size="21" text-anchor="middle" y="7.5" fill="#151515" stroke="#151515" stroke-width="0.9" stroke-linejoin="round">B</text>
<text transform="translate(1490.5,832.8) rotate(-87.4) scale(1.000,1.220)" font-family="Liberation Sans" font-size="21" text-anchor="middle" y="7.5" fill="#151515" stroke="#151515" stroke-width="0.9" stroke-linejoin="round">E</text>
<text transform="translate(1547,830.5) rotate(-87.4) scale(1.000,1.220)" font-family="Liberation Sans" font-size="21" text-anchor="middle" y="7.5" fill="#151515" stroke="#151515" stroke-width="0.9" stroke-linejoin="round">B</text>
<text transform="translate(1616.8,833.9) rotate(-87.4) scale(1.000,1.220)" font-family="Liberation Sans" font-size="21" text-anchor="middle" y="7.5" fill="#151515" stroke="#151515" stroke-width="0.9" stroke-linejoin="round">B</text>
<text transform="translate(1534.4,880.8) rotate(-87.4) scale(1.000,1.220)" font-family="Liberation Sans" font-size="21" text-anchor="middle" y="7.5" fill="#151515" stroke="#151515" stroke-width="0.9" stroke-linejoin="round">B</text>
<text transform="translate(1608.8,883.1) rotate(-87.4) scale(1.000,1.220)" font-family="Liberation Sans" font-size="21" text-anchor="middle" y="7.5" fill="#151515" stroke="#151515" stroke-width="0.9" stroke-linejoin="round">B</text>
<text transform="translate(1465.8,927.7) rotate(-87.4) scale(1.000,1.220)" font-family="Liberation Sans" font-size="21" text-anchor="middle" y="7.5" fill="#151515" stroke="#151515" stroke-width="0.9" stroke-linejoin="round">F</text>
<text transform="translate(1532.1,923.2) rotate(-87.4) scale(1.000,1.220)" font-family="Liberation Sans" font-size="21" text-anchor="middle" y="7.5" fill="#151515" stroke="#151515" stroke-width="0.9" stroke-linejoin="round">C1</text>
<text transform="translate(1605.4,926.6) rotate(-87.4) scale(1.000,1.220)" font-family="Liberation Sans" font-size="21" text-anchor="middle" y="7.5" fill="#151515" stroke="#151515" stroke-width="0.9" stroke-linejoin="round">C1</text>
<text transform="translate(1502.4,771) rotate(-87.4) scale(1.000,1.080)" font-family="Liberation Sans" font-size="14.5" text-anchor="middle" y="5.2" fill="#151515" font-weight="bold" letter-spacing="0.9" stroke="#151515" stroke-width="0.9" stroke-linejoin="round">326</text>
<text transform="translate(1582.5,720.6) rotate(-87.4) scale(1.000,1.080)" font-family="Liberation Sans" font-size="14.5" text-anchor="middle" y="5.2" fill="#151515" font-weight="bold" letter-spacing="0.9" stroke="#151515" stroke-width="0.9" stroke-linejoin="round">227</text>
<text transform="translate(1655.7,722.9) rotate(-87.4) scale(1.000,1.080)" font-family="Liberation Sans" font-size="14.5" text-anchor="middle" y="5.2" fill="#151515" font-weight="bold" letter-spacing="0.9" stroke="#151515" stroke-width="0.9" stroke-linejoin="round">127</text>
<text transform="translate(1580.2,774.4) rotate(-87.4) scale(1.000,1.080)" font-family="Liberation Sans" font-size="14.5" text-anchor="middle" y="5.2" fill="#151515" font-weight="bold" letter-spacing="0.9" stroke="#151515" stroke-width="0.9" stroke-linejoin="round">226</text>
<text transform="translate(1648.8,776.7) rotate(-87.4) scale(1.000,1.080)" font-family="Liberation Sans" font-size="14.5" text-anchor="middle" y="5.2" fill="#151515" font-weight="bold" letter-spacing="0.9" stroke="#151515" stroke-width="0.9" stroke-linejoin="round">126</text>
<text transform="translate(1493.2,870.5) rotate(-87.4) scale(1.000,1.080)" font-family="Liberation Sans" font-size="14.5" text-anchor="middle" y="5.2" fill="#151515" font-weight="bold" letter-spacing="0.9" stroke="#151515" stroke-width="0.9" stroke-linejoin="round">324</text>
<text transform="translate(1571,825.9) rotate(-87.4) scale(1.000,1.080)" font-family="Liberation Sans" font-size="14.5" text-anchor="middle" y="5.2" fill="#151515" font-weight="bold" letter-spacing="0.9" stroke="#151515" stroke-width="0.9" stroke-linejoin="round">225</text>
<text transform="translate(1647.7,828.2) rotate(-87.4) scale(1.000,1.080)" font-family="Liberation Sans" font-size="14.5" text-anchor="middle" y="5.2" fill="#151515" font-weight="bold" letter-spacing="0.9" stroke="#151515" stroke-width="0.9" stroke-linejoin="round">125</text>
<text transform="translate(1565.3,874) rotate(-87.4) scale(1.000,1.080)" font-family="Liberation Sans" font-size="14.5" text-anchor="middle" y="5.2" fill="#151515" font-weight="bold" letter-spacing="0.9" stroke="#151515" stroke-width="0.9" stroke-linejoin="round">224</text>
<text transform="translate(1636.2,876.2) rotate(-87.4) scale(1.000,1.080)" font-family="Liberation Sans" font-size="14.5" text-anchor="middle" y="5.2" fill="#151515" font-weight="bold" letter-spacing="0.9" stroke="#151515" stroke-width="0.9" stroke-linejoin="round">124</text>
<text transform="translate(1492.1,920.9) rotate(-87.4) scale(1.000,1.080)" font-family="Liberation Sans" font-size="14.5" text-anchor="middle" y="5.2" fill="#151515" font-weight="bold" letter-spacing="0.9" stroke="#151515" stroke-width="0.9" stroke-linejoin="round">323</text>
<text transform="translate(1559.6,923.2) rotate(-87.4) scale(1.000,1.080)" font-family="Liberation Sans" font-size="14.5" text-anchor="middle" y="5.2" fill="#151515" font-weight="bold" letter-spacing="0.9" stroke="#151515" stroke-width="0.9" stroke-linejoin="round">223</text>
<text transform="translate(1634,926.6) rotate(-87.4) scale(1.000,1.080)" font-family="Liberation Sans" font-size="14.5" text-anchor="middle" y="5.2" fill="#151515" font-weight="bold" letter-spacing="0.9" stroke="#151515" stroke-width="0.9" stroke-linejoin="round">123</text>
<line x1="1371.9" y1="1003.1" x2="1648.2" y2="1014.9" stroke="#4a4a4a" stroke-width="3.4" stroke-linecap="butt"/>
<line x1="1428.6" y1="1004.8" x2="1427.4" y2="1055.7" stroke="#4a4a4a" stroke-width="4" stroke-linecap="butt"/>
<line x1="1501.8" y1="1007.9" x2="1500.6" y2="1058.8" stroke="#4a4a4a" stroke-width="4" stroke-linecap="butt"/>
<line x1="1573.8" y1="1011" x2="1572.6" y2="1061.9" stroke="#4a4a4a" stroke-width="4" stroke-linecap="butt"/>
<line x1="1648.2" y1="1014.2" x2="1647" y2="1065.1" stroke="#4a4a4a" stroke-width="4" stroke-linecap="butt"/>
<line x1="1373.1" y1="1052.7" x2="1649.4" y2="1064.5" stroke="#4a4a4a" stroke-width="3.4" stroke-linecap="butt"/>
<line x1="1430.9" y1="1054.4" x2="1430.9" y2="1106.5" stroke="#4a4a4a" stroke-width="4" stroke-linecap="butt"/>
<line x1="1504.1" y1="1057.6" x2="1503" y2="1109.9" stroke="#4a4a4a" stroke-width="4" stroke-linecap="butt"/>
<line x1="1576.2" y1="1060.6" x2="1576.2" y2="1113.3" stroke="#4a4a4a" stroke-width="4" stroke-linecap="butt"/>
<line x1="1649.4" y1="1063.8" x2="1648.2" y2="1116.6" stroke="#4a4a4a" stroke-width="4" stroke-linecap="butt"/>
<line x1="1430.9" y1="1105.8" x2="1649.4" y2="1116" stroke="#4a4a4a" stroke-width="3.4" stroke-linecap="butt"/>
<line x1="1433.3" y1="1105.2" x2="1433.3" y2="1158.4" stroke="#4a4a4a" stroke-width="4" stroke-linecap="butt"/>
<line x1="1506.5" y1="1108.6" x2="1506.5" y2="1161.6" stroke="#4a4a4a" stroke-width="4" stroke-linecap="butt"/>
<line x1="1579.7" y1="1112" x2="1578.5" y2="1164.7" stroke="#4a4a4a" stroke-width="4" stroke-linecap="butt"/>
<line x1="1379" y1="1155.4" x2="1582.1" y2="1164.1" stroke="#4a4a4a" stroke-width="3.4" stroke-linecap="butt"/>
<line x1="1436.8" y1="1157.2" x2="1435.7" y2="1211.6" stroke="#4a4a4a" stroke-width="4" stroke-linecap="butt"/>
<line x1="1510.1" y1="1160.3" x2="1508.9" y2="1214.7" stroke="#4a4a4a" stroke-width="4" stroke-linecap="butt"/>
<line x1="1582.1" y1="1163.4" x2="1580.9" y2="1217.8" stroke="#4a4a4a" stroke-width="4" stroke-linecap="butt"/>
<line x1="1436.8" y1="1210.9" x2="1584.4" y2="1217.3" stroke="#4a4a4a" stroke-width="3.4" stroke-linecap="butt"/>
<line x1="1438" y1="1210.2" x2="1438" y2="1264.1" stroke="#4a4a4a" stroke-width="4" stroke-linecap="butt"/>
<line x1="1511.2" y1="1213.4" x2="1510.1" y2="1267.9" stroke="#4a4a4a" stroke-width="4" stroke-linecap="butt"/>
<line x1="1584.4" y1="1216.6" x2="1583.3" y2="1271.8" stroke="#4a4a4a" stroke-width="4" stroke-linecap="butt"/>
<line x1="1383.7" y1="1260.5" x2="1583.3" y2="1271.1" stroke="#4a4a4a" stroke-width="3.4" stroke-linecap="butt"/>
<line x1="1369.5" y1="993.6" x2="1382.5" y2="1270" stroke="#4a4a4a" stroke-width="4" stroke-linecap="butt"/>
<text transform="translate(1389.6,1033.3) rotate(-87.4) scale(1.000,1.220)" font-family="Liberation Sans" font-size="21" text-anchor="middle" y="7.5" fill="#151515" stroke="#151515" stroke-width="0.9" stroke-linejoin="round">G</text>
<ellipse cx="1382" cy="1020.1" rx="2.5" ry="1.7" fill="#151515" transform="rotate(2.6 1382 1020.1)"/>
<text transform="translate(1460.5,1036.1) rotate(-87.4) scale(1.000,1.220)" font-family="Liberation Sans" font-size="21" text-anchor="middle" y="7.5" fill="#151515" stroke="#151515" stroke-width="0.9" stroke-linejoin="round">C1</text>
<text transform="translate(1530.1,1039.7) rotate(-87.4) scale(1.000,1.220)" font-family="Liberation Sans" font-size="21" text-anchor="middle" y="7.5" fill="#151515" stroke="#151515" stroke-width="0.9" stroke-linejoin="round">C1</text>
<text transform="translate(1605.7,1043.2) rotate(-87.4) scale(1.000,1.220)" font-family="Liberation Sans" font-size="21" text-anchor="middle" y="7.5" fill="#151515" stroke="#151515" stroke-width="0.9" stroke-linejoin="round">C1</text>
<text transform="translate(1409.7,1087.6) rotate(-87.4) scale(1.000,1.220)" font-family="Liberation Sans" font-size="21" text-anchor="middle" y="7.5" fill="#151515" stroke="#151515" stroke-width="0.9" stroke-linejoin="round">E</text>
<ellipse cx="1402.1" cy="1074.4" rx="2.5" ry="1.7" fill="#151515" transform="rotate(2.6 1402.1 1074.4)"/>
<text transform="translate(1467.5,1085.3) rotate(-87.4) scale(1.000,1.220)" font-family="Liberation Sans" font-size="18" text-anchor="middle" y="6.4" fill="#151515" font-weight="bold" stroke="#151515" stroke-width="0.9" stroke-linejoin="round">A</text>
<ellipse cx="1461.1" cy="1073.9" rx="2.5" ry="1.7" fill="#151515" transform="rotate(2.6 1461.1 1073.9)"/>
<text transform="translate(1539.6,1090) rotate(-87.4) scale(1.000,1.220)" font-family="Liberation Sans" font-size="18" text-anchor="middle" y="6.4" fill="#151515" font-weight="bold" stroke="#151515" stroke-width="0.9" stroke-linejoin="round">A</text>
<ellipse cx="1533.1" cy="1078.6" rx="2.5" ry="1.7" fill="#151515" transform="rotate(2.6 1533.1 1078.6)"/>
<text transform="translate(1465.2,1134.9) rotate(-87.4) scale(1.000,1.220)" font-family="Liberation Sans" font-size="18" text-anchor="middle" y="6.4" fill="#151515" font-weight="bold" stroke="#151515" stroke-width="0.9" stroke-linejoin="round">A</text>
<ellipse cx="1458.7" cy="1123.5" rx="2.5" ry="1.7" fill="#151515" transform="rotate(2.6 1458.7 1123.5)"/>
<text transform="translate(1537.2,1141.9) rotate(-87.4) scale(1.000,1.220)" font-family="Liberation Sans" font-size="18" text-anchor="middle" y="6.4" fill="#151515" font-weight="bold" stroke="#151515" stroke-width="0.9" stroke-linejoin="round">A</text>
<ellipse cx="1530.7" cy="1130.6" rx="2.5" ry="1.7" fill="#151515" transform="rotate(2.6 1530.7 1130.6)"/>
<text transform="translate(1413.2,1191.5) rotate(-87.4) scale(1.000,1.220)" font-family="Liberation Sans" font-size="21" text-anchor="middle" y="7.5" fill="#151515" stroke="#151515" stroke-width="0.9" stroke-linejoin="round">E</text>
<ellipse cx="1405.7" cy="1178.3" rx="2.5" ry="1.7" fill="#151515" transform="rotate(2.6 1405.7 1178.3)"/>
<text transform="translate(1473.4,1190.4) rotate(-87.4) scale(1.000,1.220)" font-family="Liberation Sans" font-size="18" text-anchor="middle" y="6.4" fill="#151515" font-weight="bold" stroke="#151515" stroke-width="0.9" stroke-linejoin="round">A</text>
<ellipse cx="1467" cy="1179" rx="2.5" ry="1.7" fill="#151515" transform="rotate(2.6 1467 1179)"/>
<text transform="translate(1545.5,1193.9) rotate(-87.4) scale(1.000,1.220)" font-family="Liberation Sans" font-size="18" text-anchor="middle" y="6.4" fill="#151515" font-weight="bold" stroke="#151515" stroke-width="0.9" stroke-linejoin="round">A</text>
<ellipse cx="1539" cy="1182.6" rx="2.5" ry="1.7" fill="#151515" transform="rotate(2.6 1539 1182.6)"/>
<text transform="translate(1468.7,1243.5) rotate(-87.4) scale(1.000,1.220)" font-family="Liberation Sans" font-size="18" text-anchor="middle" y="6.4" fill="#151515" font-weight="bold" stroke="#151515" stroke-width="0.9" stroke-linejoin="round">A</text>
<ellipse cx="1462.2" cy="1232.2" rx="2.5" ry="1.7" fill="#151515" transform="rotate(2.6 1462.2 1232.2)"/>
<text transform="translate(1541.9,1248.2) rotate(-87.4) scale(1.000,1.220)" font-family="Liberation Sans" font-size="18" text-anchor="middle" y="6.4" fill="#151515" font-weight="bold" stroke="#151515" stroke-width="0.9" stroke-linejoin="round">A</text>
<ellipse cx="1535.5" cy="1236.9" rx="2.5" ry="1.7" fill="#151515" transform="rotate(2.6 1535.5 1236.9)"/>
<text transform="translate(1414.4,1029) rotate(-87.4) scale(1.000,1.080)" font-family="Liberation Sans" font-size="14.5" text-anchor="middle" y="5.2" fill="#151515" font-weight="bold" letter-spacing="0.9" stroke="#151515" stroke-width="0.9" stroke-linejoin="round">422</text>
<text transform="translate(1490,1032.6) rotate(-87.4) scale(1.000,1.080)" font-family="Liberation Sans" font-size="14.5" text-anchor="middle" y="5.2" fill="#151515" font-weight="bold" letter-spacing="0.9" stroke="#151515" stroke-width="0.9" stroke-linejoin="round">322</text>
<text transform="translate(1557.3,1035) rotate(-87.4) scale(1.000,1.080)" font-family="Liberation Sans" font-size="14.5" text-anchor="middle" y="5.2" fill="#151515" font-weight="bold" letter-spacing="0.9" stroke="#151515" stroke-width="0.9" stroke-linejoin="round">222</text>
<text transform="translate(1631.7,1037.3) rotate(-87.4) scale(1.000,1.080)" font-family="Liberation Sans" font-size="14.5" text-anchor="middle" y="5.2" fill="#151515" font-weight="bold" letter-spacing="0.9" stroke="#151515" stroke-width="0.9" stroke-linejoin="round">122</text>
<text transform="translate(1488.8,1084.5) rotate(-87.4) scale(1.000,1.080)" font-family="Liberation Sans" font-size="14.5" text-anchor="middle" y="5.2" fill="#151515" font-weight="bold" letter-spacing="0.9" stroke="#151515" stroke-width="0.9" stroke-linejoin="round">321</text>
<text transform="translate(1560.8,1088.1) rotate(-87.4) scale(1.000,1.080)" font-family="Liberation Sans" font-size="14.5" text-anchor="middle" y="5.2" fill="#151515" font-weight="bold" letter-spacing="0.9" stroke="#151515" stroke-width="0.9" stroke-linejoin="round">221</text>
<text transform="translate(1490,1135.3) rotate(-87.4) scale(1.000,1.080)" font-family="Liberation Sans" font-size="14.5" text-anchor="middle" y="5.2" fill="#151515" font-weight="bold" letter-spacing="0.9" stroke="#151515" stroke-width="0.9" stroke-linejoin="round">320</text>
<text transform="translate(1498.2,1186.1) rotate(-87.4) scale(1.000,1.080)" font-family="Liberation Sans" font-size="14.5" text-anchor="middle" y="5.2" fill="#151515" font-weight="bold" letter-spacing="0.9" stroke="#151515" stroke-width="0.9" stroke-linejoin="round">319</text>
<text transform="translate(1570.3,1188.5) rotate(-87.4) scale(1.000,1.080)" font-family="Liberation Sans" font-size="14.5" text-anchor="middle" y="5.2" fill="#151515" font-weight="bold" letter-spacing="0.9" stroke="#151515" stroke-width="0.9" stroke-linejoin="round">219</text>
<text transform="translate(1497.1,1239.2) rotate(-87.4) scale(1.000,1.080)" font-family="Liberation Sans" font-size="14.5" text-anchor="middle" y="5.2" fill="#151515" font-weight="bold" letter-spacing="0.9" stroke="#151515" stroke-width="0.9" stroke-linejoin="round">318</text>
<text transform="translate(1567.9,1244) rotate(-87.4) scale(1.000,1.080)" font-family="Liberation Sans" font-size="14.5" text-anchor="middle" y="5.2" fill="#151515" font-weight="bold" letter-spacing="0.9" stroke="#151515" stroke-width="0.9" stroke-linejoin="round">218</text>
<text transform="translate(1425,1238.1) rotate(-87.4) scale(1.000,1.080)" font-family="Liberation Sans" font-size="14.5" text-anchor="middle" y="5.2" fill="#151515" font-weight="bold" letter-spacing="0.9" stroke="#151515" stroke-width="0.9" stroke-linejoin="round">418</text>
<text transform="translate(1419.1,1133) rotate(-87.4) scale(1.000,1.080)" font-family="Liberation Sans" font-size="14.5" text-anchor="middle" y="5.2" fill="#777" font-weight="bold" letter-spacing="0.9" stroke="#777" stroke-width="0.9" stroke-linejoin="round">420</text>
<text transform="translate(1563.2,1141.2) rotate(-87.4) scale(1.000,1.080)" font-family="Liberation Sans" font-size="14.5" text-anchor="middle" y="5.2" fill="#888" font-weight="bold" letter-spacing="0.9" stroke="#888" stroke-width="0.9" stroke-linejoin="round">220</text>
<line x1="1453.2" y1="1010.3" x2="1456.4" y2="1010.4" stroke="#555" stroke-width="3" stroke-linecap="butt"/>
<line x1="1523" y1="1012.3" x2="1526.2" y2="1012.4" stroke="#555" stroke-width="3" stroke-linecap="butt"/>
<line x1="1596.5" y1="1015.3" x2="1599.7" y2="1015.4" stroke="#555" stroke-width="3" stroke-linecap="butt"/>
<line x1="1546.2" y1="416.8" x2="1549.4" y2="416.9" stroke="#555" stroke-width="3" stroke-linecap="butt"/>
<line x1="749.2" y1="85.1" x2="775.8" y2="86.6" stroke="#222" stroke-width="1.8" stroke-linecap="butt"/>
<text transform="translate(792.9,89.6) rotate(-87.4)" font-family="Liberation Sans" font-size="23.8" text-anchor="middle" y="8.5" fill="#151515" stroke="#151515" stroke-width="1.2" stroke-linejoin="round">1</text>
<line x1="755" y1="140.4" x2="774.3" y2="141.9" stroke="#222" stroke-width="1.8" stroke-linecap="butt"/>
<text transform="translate(789.9,147.2) rotate(-87.4)" font-family="Liberation Sans" font-size="23.8" text-anchor="middle" y="8.5" fill="#151515" stroke="#151515" stroke-width="1.2" stroke-linejoin="round">2</text>
<line x1="754.2" y1="196.2" x2="770.8" y2="197.6" stroke="#222" stroke-width="1.8" stroke-linecap="butt"/>
<text transform="translate(787.3,202.4) rotate(-87.4)" font-family="Liberation Sans" font-size="23.8" text-anchor="middle" y="8.5" fill="#151515" stroke="#151515" stroke-width="1.2" stroke-linejoin="round">3</text>
<line x1="753.6" y1="253.6" x2="770" y2="254.5" stroke="#222" stroke-width="1.8" stroke-linecap="butt"/>
<text transform="translate(786.9,256.6) rotate(-87.4)" font-family="Liberation Sans" font-size="23.8" text-anchor="middle" y="8.5" fill="#151515" stroke="#151515" stroke-width="1.2" stroke-linejoin="round">4</text>
<line x1="746.3" y1="311.8" x2="765.5" y2="312.7" stroke="#222" stroke-width="1.8" stroke-linecap="butt"/>
<text transform="translate(782.5,315.7) rotate(-87.4)" font-family="Liberation Sans" font-size="23.8" text-anchor="middle" y="8.5" fill="#151515" stroke="#151515" stroke-width="1.2" stroke-linejoin="round">5</text>
<line x1="778.4" y1="344.9" x2="805.5" y2="347.2" stroke="#222" stroke-width="1.8" stroke-linecap="butt"/>
<text transform="translate(822.4,350.5) rotate(-87.4)" font-family="Liberation Sans" font-size="23.8" text-anchor="middle" y="8.5" fill="#151515" stroke="#151515" stroke-width="1.2" stroke-linejoin="round">8</text>
<line x1="776" y1="401" x2="805" y2="402.9" stroke="#222" stroke-width="1.8" stroke-linecap="butt"/>
<text transform="translate(819.9,406.3) rotate(-87.4)" font-family="Liberation Sans" font-size="23.8" text-anchor="middle" y="8.5" fill="#151515" stroke="#151515" stroke-width="1.2" stroke-linejoin="round">9</text>
<line x1="780.3" y1="456.3" x2="803.9" y2="457.7" stroke="#222" stroke-width="1.8" stroke-linecap="butt"/>
<text transform="translate(820.9,461.3) rotate(-87.4)" font-family="Liberation Sans" font-size="23.8" text-anchor="middle" y="8.5" fill="#151515" stroke="#151515" stroke-width="1.2" stroke-linejoin="round">10</text>
<line x1="778.8" y1="510.9" x2="803.9" y2="513" stroke="#222" stroke-width="1.8" stroke-linecap="butt"/>
<text transform="translate(818,516.9) rotate(-87.4)" font-family="Liberation Sans" font-size="23.8" text-anchor="middle" y="8.5" fill="#151515" stroke="#151515" stroke-width="1.2" stroke-linejoin="round">11</text>
<line x1="772.9" y1="566.5" x2="800.9" y2="568.6" stroke="#222" stroke-width="1.8" stroke-linecap="butt"/>
<text transform="translate(815,570) rotate(-87.4)" font-family="Liberation Sans" font-size="23.8" text-anchor="middle" y="8.5" fill="#151515" stroke="#151515" stroke-width="1.2" stroke-linejoin="round">12</text>
<line x1="769.9" y1="647.5" x2="796.5" y2="649.9" stroke="#222" stroke-width="1.8" stroke-linecap="butt"/>
<text transform="translate(813.5,654.3) rotate(-87.4)" font-family="Liberation Sans" font-size="23.8" text-anchor="middle" y="8.5" fill="#151515" stroke="#151515" stroke-width="1.2" stroke-linejoin="round">13</text>
<line x1="768.4" y1="730.6" x2="795" y2="732.6" stroke="#222" stroke-width="1.8" stroke-linecap="butt"/>
<text transform="translate(810.6,735.6) rotate(-87.4)" font-family="Liberation Sans" font-size="23.8" text-anchor="middle" y="8.5" fill="#151515" stroke="#151515" stroke-width="1.2" stroke-linejoin="round">14</text>
<line x1="771.4" y1="785.3" x2="793.6" y2="786.4" stroke="#222" stroke-width="1.8" stroke-linecap="butt"/>
<text transform="translate(809.1,790.3) rotate(-87.4)" font-family="Liberation Sans" font-size="23.8" text-anchor="middle" y="8.5" fill="#151515" stroke="#151515" stroke-width="1.2" stroke-linejoin="round">15</text>
<line x1="768.5" y1="843.4" x2="791.2" y2="844.7" stroke="#222" stroke-width="1.8" stroke-linecap="butt"/>
<text transform="translate(808.4,849.2) rotate(-87.4)" font-family="Liberation Sans" font-size="23.8" text-anchor="middle" y="8.5" fill="#151515" stroke="#151515" stroke-width="1.2" stroke-linejoin="round">16</text>
<line x1="763.6" y1="898" x2="788" y2="899.2" stroke="#222" stroke-width="1.8" stroke-linecap="butt"/>
<text transform="translate(806.7,905.1) rotate(-87.4)" font-family="Liberation Sans" font-size="23.8" text-anchor="middle" y="8.5" fill="#151515" stroke="#151515" stroke-width="1.2" stroke-linejoin="round">17</text>
<line x1="758.7" y1="952.5" x2="784.7" y2="953.8" stroke="#222" stroke-width="1.8" stroke-linecap="butt"/>
<text transform="translate(805.1,959.7) rotate(-87.4)" font-family="Liberation Sans" font-size="23.8" text-anchor="middle" y="8.5" fill="#151515" stroke="#151515" stroke-width="1.2" stroke-linejoin="round">18</text>
<line x1="726.2" y1="981.7" x2="744.1" y2="982.4" stroke="#222" stroke-width="1.8" stroke-linecap="butt"/>
<text transform="translate(764.5,988.9) rotate(-87.4)" font-family="Liberation Sans" font-size="23.8" text-anchor="middle" y="8.5" fill="#151515" stroke="#151515" stroke-width="1.2" stroke-linejoin="round">21</text>
<line x1="726.2" y1="1037.6" x2="744.1" y2="1038.6" stroke="#222" stroke-width="1.8" stroke-linecap="butt"/>
<text transform="translate(762.9,1043.4) rotate(-87.4)" font-family="Liberation Sans" font-size="23.8" text-anchor="middle" y="8.5" fill="#151515" stroke="#151515" stroke-width="1.2" stroke-linejoin="round">22</text>
<line x1="726.2" y1="1094.4" x2="744.1" y2="1095.4" stroke="#222" stroke-width="1.8" stroke-linecap="butt"/>
<text transform="translate(761.3,1100) rotate(-87.4)" font-family="Liberation Sans" font-size="23.8" text-anchor="middle" y="8.5" fill="#151515" stroke="#151515" stroke-width="1.2" stroke-linejoin="round">23</text>
<line x1="724.6" y1="1150.6" x2="742.5" y2="1151.9" stroke="#222" stroke-width="1.8" stroke-linecap="butt"/>
<text transform="translate(759.6,1157.8) rotate(-87.4)" font-family="Liberation Sans" font-size="23.8" text-anchor="middle" y="8.5" fill="#151515" stroke="#151515" stroke-width="1.2" stroke-linejoin="round">24</text>
<line x1="723.6" y1="1209.7" x2="741.8" y2="1211.4" stroke="#222" stroke-width="1.8" stroke-linecap="butt"/>
<text transform="translate(758,1215.6) rotate(-87.4)" font-family="Liberation Sans" font-size="23.8" text-anchor="middle" y="8.5" fill="#151515" stroke="#151515" stroke-width="1.2" stroke-linejoin="round">25</text>
<line x1="1725.5" y1="103.7" x2="1750.6" y2="104.3" stroke="#222" stroke-width="1.8" stroke-linecap="butt"/>
<text transform="translate(1771.3,110.3) rotate(-87.4) scale(1.000,1.050)" font-family="Liberation Sans" font-size="25" text-anchor="middle" y="8.9" fill="#888" letter-spacing="2" stroke="#888" stroke-width="1" stroke-linejoin="round">25</text>
<line x1="1725.5" y1="151.6" x2="1747.6" y2="151.6" stroke="#222" stroke-width="1.8" stroke-linecap="butt"/>
<text transform="translate(1771.3,159) rotate(-87.4) scale(1.000,1.020)" font-family="Liberation Sans" font-size="25" text-anchor="middle" y="8.9" fill="#151515" letter-spacing="2" stroke="#151515" stroke-width="1.2" stroke-linejoin="round">24</text>
<line x1="1726.9" y1="200.4" x2="1747.6" y2="200.4" stroke="#222" stroke-width="1.8" stroke-linecap="butt"/>
<text transform="translate(1771.3,204.8) rotate(-87.4) scale(1.000,1.020)" font-family="Liberation Sans" font-size="25" text-anchor="middle" y="8.9" fill="#151515" letter-spacing="2" stroke="#151515" stroke-width="1.2" stroke-linejoin="round">23</text>
<line x1="1724" y1="249.8" x2="1743.2" y2="249.8" stroke="#222" stroke-width="1.8" stroke-linecap="butt"/>
<text transform="translate(1769.8,255.1) rotate(-87.4) scale(1.000,1.020)" font-family="Liberation Sans" font-size="25" text-anchor="middle" y="8.9" fill="#151515" letter-spacing="2" stroke="#151515" stroke-width="1.2" stroke-linejoin="round">22</text>
<line x1="1722.5" y1="300.9" x2="1743.2" y2="300.9" stroke="#222" stroke-width="1.8" stroke-linecap="butt"/>
<text transform="translate(1768.3,309.8) rotate(-87.4) scale(1.000,1.020)" font-family="Liberation Sans" font-size="25" text-anchor="middle" y="8.9" fill="#151515" letter-spacing="2" stroke="#151515" stroke-width="1.2" stroke-linejoin="round">21</text>
<line x1="1721" y1="352.6" x2="1743.2" y2="352.6" stroke="#222" stroke-width="1.8" stroke-linecap="butt"/>
<text transform="translate(1766.9,357.1) rotate(-87.4) scale(1.000,1.020)" font-family="Liberation Sans" font-size="25" text-anchor="middle" y="8.9" fill="#151515" letter-spacing="2" stroke="#151515" stroke-width="1.2" stroke-linejoin="round">20</text>
<line x1="1728.4" y1="422.1" x2="1744.7" y2="422.1" stroke="#222" stroke-width="1.8" stroke-linecap="butt"/>
<text transform="translate(1764.5,423.2) rotate(-87.4) scale(1.000,1.020)" font-family="Liberation Sans" font-size="25" text-anchor="middle" y="8.9" fill="#151515" letter-spacing="2" stroke="#151515" stroke-width="1.2" stroke-linejoin="round">19</text>
<line x1="1727.8" y1="468.8" x2="1744.9" y2="468.1" stroke="#222" stroke-width="1.8" stroke-linecap="butt"/>
<text transform="translate(1763.3,472.7) rotate(-87.4) scale(1.000,1.020)" font-family="Liberation Sans" font-size="25" text-anchor="middle" y="8.9" fill="#151515" letter-spacing="2" stroke="#151515" stroke-width="1.2" stroke-linejoin="round">18</text>
<line x1="1723.2" y1="517.3" x2="1742.7" y2="517.3" stroke="#222" stroke-width="1.8" stroke-linecap="butt"/>
<text transform="translate(1762.1,520.7) rotate(-87.4) scale(1.000,1.020)" font-family="Liberation Sans" font-size="25" text-anchor="middle" y="8.9" fill="#151515" letter-spacing="2" stroke="#151515" stroke-width="1.2" stroke-linejoin="round">17</text>
<line x1="1725.5" y1="565.4" x2="1743.8" y2="565.4" stroke="#222" stroke-width="1.8" stroke-linecap="butt"/>
<text transform="translate(1761,570) rotate(-87.4) scale(1.000,1.020)" font-family="Liberation Sans" font-size="25" text-anchor="middle" y="8.9" fill="#151515" letter-spacing="2" stroke="#151515" stroke-width="1.2" stroke-linejoin="round">16</text>
<line x1="1723.2" y1="615.7" x2="1739.2" y2="615.7" stroke="#222" stroke-width="1.8" stroke-linecap="butt"/>
<text transform="translate(1759.8,622.6) rotate(-87.4) scale(1.000,1.020)" font-family="Liberation Sans" font-size="25" text-anchor="middle" y="8.9" fill="#151515" letter-spacing="2" stroke="#151515" stroke-width="1.2" stroke-linejoin="round">15</text>
<line x1="1723.8" y1="666" x2="1738.9" y2="667.1" stroke="#222" stroke-width="1.8" stroke-linecap="butt"/>
<text transform="translate(1757.5,673.5) rotate(-87.4) scale(1.000,0.900)" font-family="Liberation Sans" font-size="25" text-anchor="middle" y="8.9" fill="#151515" letter-spacing="2" stroke="#151515" stroke-width="1.2" stroke-linejoin="round">14</text>
<line x1="1714.1" y1="701.2" x2="1732.7" y2="702.2" stroke="#222" stroke-width="1.8" stroke-linecap="butt"/>
<text transform="translate(1756.3,708) rotate(-87.4) scale(1.000,0.900)" font-family="Liberation Sans" font-size="25" text-anchor="middle" y="8.9" fill="#151515" letter-spacing="2" stroke="#151515" stroke-width="1.2" stroke-linejoin="round">12</text>
<line x1="1714.1" y1="753.5" x2="1730.2" y2="753.5" stroke="#222" stroke-width="1.8" stroke-linecap="butt"/>
<text transform="translate(1755.3,758) rotate(-87.4) scale(1.000,0.900)" font-family="Liberation Sans" font-size="25" text-anchor="middle" y="8.9" fill="#151515" letter-spacing="2" stroke="#151515" stroke-width="1.2" stroke-linejoin="round">11</text>
<line x1="1710.1" y1="803.7" x2="1730.2" y2="804.7" stroke="#222" stroke-width="1.8" stroke-linecap="butt"/>
<text transform="translate(1752.8,809.7) rotate(-87.4) scale(1.000,0.900)" font-family="Liberation Sans" font-size="25" text-anchor="middle" y="8.9" fill="#151515" letter-spacing="2" stroke="#151515" stroke-width="1.2" stroke-linejoin="round">10</text>
<line x1="1701.1" y1="852.9" x2="1730.2" y2="854.9" stroke="#222" stroke-width="1.8" stroke-linecap="butt"/>
<text transform="translate(1750.3,851.9) rotate(-87.4) scale(1.000,1.020)" font-family="Liberation Sans" font-size="25" text-anchor="middle" y="8.9" fill="#151515" letter-spacing="2" stroke="#151515" stroke-width="1.2" stroke-linejoin="round">9</text>
<line x1="1700.1" y1="902.6" x2="1729.2" y2="904.6" stroke="#222" stroke-width="1.8" stroke-linecap="butt"/>
<text transform="translate(1750.3,911.1) rotate(-87.4) scale(1.000,1.020)" font-family="Liberation Sans" font-size="25" text-anchor="middle" y="8.9" fill="#151515" letter-spacing="2" stroke="#151515" stroke-width="1.2" stroke-linejoin="round">8</text>
<line x1="1699.1" y1="951.2" x2="1729.2" y2="953.8" stroke="#222" stroke-width="1.8" stroke-linecap="butt"/>
<text transform="translate(1749.3,956.3) rotate(-87.4) scale(1.000,1.020)" font-family="Liberation Sans" font-size="25" text-anchor="middle" y="8.9" fill="#151515" letter-spacing="2" stroke="#151515" stroke-width="1.2" stroke-linejoin="round">7</text>
<line x1="1701.1" y1="1015.5" x2="1732.7" y2="1017.5" stroke="#222" stroke-width="1.8" stroke-linecap="butt"/>
<text transform="translate(1749.3,1022.5) rotate(-87.4) scale(1.000,1.020)" font-family="Liberation Sans" font-size="25" text-anchor="middle" y="8.9" fill="#151515" letter-spacing="2" stroke="#151515" stroke-width="1.2" stroke-linejoin="round">6</text>
<line x1="1701.1" y1="1066.7" x2="1732.7" y2="1068.2" stroke="#222" stroke-width="1.8" stroke-linecap="butt"/>
<text transform="translate(1747.8,1072.7) rotate(-87.4) scale(1.000,1.020)" font-family="Liberation Sans" font-size="25" text-anchor="middle" y="8.9" fill="#151515" letter-spacing="2" stroke="#151515" stroke-width="1.2" stroke-linejoin="round">5</text>
<line x1="1701.1" y1="1116.9" x2="1730.2" y2="1119.4" stroke="#222" stroke-width="1.8" stroke-linecap="butt"/>
<text transform="translate(1746.8,1124.4) rotate(-87.4) scale(1.000,1.020)" font-family="Liberation Sans" font-size="25" text-anchor="middle" y="8.9" fill="#151515" letter-spacing="2" stroke="#151515" stroke-width="1.2" stroke-linejoin="round">4</text>
<line x1="1701.1" y1="1168.1" x2="1730.2" y2="1170.1" stroke="#222" stroke-width="1.8" stroke-linecap="butt"/>
<text transform="translate(1745.3,1176.1) rotate(-87.4) scale(1.000,1.020)" font-family="Liberation Sans" font-size="25" text-anchor="middle" y="8.9" fill="#151515" letter-spacing="2" stroke="#151515" stroke-width="1.2" stroke-linejoin="round">3</text>
<line x1="1701.1" y1="1222.3" x2="1730.2" y2="1224.3" stroke="#222" stroke-width="1.8" stroke-linecap="butt"/>
<text transform="translate(1744.3,1229.9) rotate(-87.4) scale(1.000,1.020)" font-family="Liberation Sans" font-size="25" text-anchor="middle" y="8.9" fill="#151515" letter-spacing="2" stroke="#151515" stroke-width="1.2" stroke-linejoin="round">2</text>
<line x1="1697.6" y1="1273.5" x2="1727.7" y2="1275.5" stroke="#222" stroke-width="1.8" stroke-linecap="butt"/>
<text transform="translate(1742.8,1270) rotate(-87.4) scale(1.000,1.050)" font-family="Liberation Sans" font-size="25" text-anchor="middle" y="8.9" fill="#888" letter-spacing="2" stroke="#888" stroke-width="1" stroke-linejoin="round">1</text>
<polyline points="1011.6,91.1 1034.5,105.8 883.5,314 881.2,357.5 917.8,568" fill="none" stroke="#2a2a2a" stroke-width="1.6" stroke-linejoin="round" stroke-linecap="round"/>
<line x1="885.8" y1="310.8" x2="873" y2="335.5" stroke="#2a2a2a" stroke-width="1.6" stroke-linecap="butt"/>
<line x1="1027.6" y1="101.2" x2="1039.1" y2="108.1" stroke="#2a2a2a" stroke-width="1.6" stroke-linecap="butt"/>
<polyline points="908.6,568 956.7,562.5" fill="none" stroke="#2a2a2a" stroke-width="1.6" stroke-linejoin="round" stroke-linecap="round"/>
<polyline points="949.8,563.4 965.9,654.3 946.2,747.2 913.2,738.1 865.2,958.7 862.9,991.6 997.9,1219.5" fill="none" stroke="#2a2a2a" stroke-width="1.6" stroke-linejoin="round" stroke-linecap="round"/>
<line x1="945.3" y1="653" x2="981.9" y2="655.2" stroke="#2a2a2a" stroke-width="1.6" stroke-linecap="butt"/>
<line x1="906.4" y1="736.2" x2="953" y2="749.5" stroke="#2a2a2a" stroke-width="1.6" stroke-linecap="butt"/>
<line x1="979.6" y1="1231" x2="1005.7" y2="1215" stroke="#2a2a2a" stroke-width="1.6" stroke-linecap="butt"/>
<text transform="translate(968.1,229.3) rotate(-86) scale(1.000,1.150)" font-family="Liberation Sans" font-size="14" text-anchor="middle" y="5" fill="#151515" font-weight="bold" stroke="#151515" stroke-width="0.5" stroke-linejoin="round">S</text>
<text transform="translate(920.5,453.8) rotate(-83) scale(1.000,1.150)" font-family="Liberation Sans" font-size="14" text-anchor="middle" y="5" fill="#151515" font-weight="bold" stroke="#151515" stroke-width="0.5" stroke-linejoin="round">SE</text>
<text transform="translate(908.6,875.4) rotate(-97) scale(1.000,1.150)" font-family="Liberation Sans" font-size="14" text-anchor="middle" y="5" fill="#151515" font-weight="bold" stroke="#151515" stroke-width="0.5" stroke-linejoin="round">S</text>
<text transform="translate(941.6,1089.1) rotate(-78) scale(1.000,1.150)" font-family="Liberation Sans" font-size="15" text-anchor="middle" y="5.4" fill="#151515" font-weight="bold" stroke="#151515" stroke-width="0.5" stroke-linejoin="round">SE</text>
<path d="M1018,1153 C1012,1160 1012,1176 1020,1181 M1034,1158 C1040,1166 1040,1176 1036,1182 M1019,1181 C1024,1184 1032,1184 1036,1182" fill="none" stroke="#555" stroke-width="1.2"/>
<line x1="1781.6" y1="97.8" x2="1911.5" y2="334" stroke="#2a2a2a" stroke-width="1.6" stroke-linecap="butt"/>
<line x1="1911.5" y1="499.3" x2="1868.9" y2="676.4" stroke="#2a2a2a" stroke-width="1.6" stroke-linecap="butt"/>
<line x1="1859.5" y1="673.6" x2="1877" y2="678.3" stroke="#2a2a2a" stroke-width="1.6" stroke-linecap="butt"/>
<line x1="1866.7" y1="710.3" x2="1902.4" y2="931.2" stroke="#2a2a2a" stroke-width="1.6" stroke-linecap="butt"/>
<line x1="1856.7" y1="711.8" x2="1875.8" y2="708.8" stroke="#2a2a2a" stroke-width="1.6" stroke-linecap="butt"/>
<line x1="1900.9" y1="1036.6" x2="1754.3" y2="1276.5" stroke="#2a2a2a" stroke-width="1.6" stroke-linecap="butt"/>
<line x1="1896.9" y1="963.8" x2="1899.4" y2="967.3" stroke="#2a2a2a" stroke-width="2" stroke-linecap="butt"/>
<line x1="1895.9" y1="1020.5" x2="1899.9" y2="1017.5" stroke="#2a2a2a" stroke-width="2" stroke-linecap="butt"/>
<text transform="translate(1854.7,1167.1) rotate(-100) scale(1.000,1.100)" font-family="Liberation Sans" font-size="13" text-anchor="middle" y="4.7" fill="#151515" font-weight="bold" stroke="#151515" stroke-width="0.4" stroke-linejoin="round">N</text>
<text transform="translate(1073.2,262.9) rotate(-88.6) scale(1.000,1.200)" font-family="Liberation Sans" font-size="15" text-anchor="middle" y="5.4" fill="#1c1c1c" font-style="italic" textLength="85" lengthAdjust="spacingAndGlyphs" stroke="#1c1c1c" stroke-width="0.5" stroke-linejoin="round">AIGUILLE</text>
<text transform="translate(1074.4,181.4) rotate(-88.6) scale(1.000,1.200)" font-family="Liberation Sans" font-size="15" text-anchor="middle" y="5.4" fill="#1c1c1c" font-style="italic" textLength="51" lengthAdjust="spacingAndGlyphs" stroke="#1c1c1c" stroke-width="0.5" stroke-linejoin="round">GRIVE</text>
<text transform="translate(1075.4,133.9) rotate(-88.6) scale(1.000,1.200)" font-family="Liberation Sans" font-size="15" text-anchor="middle" y="5.4" fill="#1c1c1c" font-style="italic" textLength="9" lengthAdjust="spacingAndGlyphs" stroke="#1c1c1c" stroke-width="0.5" stroke-linejoin="round">II</text>
<text transform="translate(1091.4,275) rotate(-88.6) scale(1.000,1.200)" font-family="Liberation Sans" font-size="16" text-anchor="middle" y="5.7" fill="#1c1c1c" font-style="italic" textLength="63" lengthAdjust="spacingAndGlyphs" stroke="#1c1c1c" stroke-width="0.5" stroke-linejoin="round">FACADE</text>
<text transform="translate(1091.9,200.8) rotate(-88.6) scale(1.000,1.200)" font-family="Liberation Sans" font-size="16" text-anchor="middle" y="5.7" fill="#1c1c1c" font-style="italic" textLength="51" lengthAdjust="spacingAndGlyphs" stroke="#1c1c1c" stroke-width="0.5" stroke-linejoin="round">COTE</text>
<text transform="translate(1092.6,125.4) rotate(-88.6) scale(1.000,1.200)" font-family="Liberation Sans" font-size="16" text-anchor="middle" y="5.7" fill="#1c1c1c" font-style="italic" textLength="51" lengthAdjust="spacingAndGlyphs" stroke="#1c1c1c" stroke-width="0.5" stroke-linejoin="round">MONT</text>
<text transform="translate(1093.8,46.7) rotate(-88.6) scale(1.000,1.200)" font-family="Liberation Sans" font-size="16" text-anchor="middle" y="5.7" fill="#1c1c1c" font-style="italic" textLength="72" lengthAdjust="spacingAndGlyphs" stroke="#1c1c1c" stroke-width="0.5" stroke-linejoin="round">BLANC</text>
<text transform="translate(1122.3,261.7) rotate(-88.6) scale(1.000,1.300)" font-family="Liberation Sans" font-size="14" text-anchor="middle" y="5" fill="#1c1c1c" textLength="92" lengthAdjust="spacing" stroke="#1c1c1c" stroke-width="0.4" stroke-linejoin="round">09/02/1988</text>
<text transform="translate(1144.3,275.5) rotate(-88.6) scale(1.000,1.200)" font-family="Liberation Sans" font-size="15" text-anchor="middle" y="5.4" fill="#1c1c1c" font-weight="bold" font-style="italic" textLength="67" lengthAdjust="spacingAndGlyphs" stroke="#1c1c1c" stroke-width="0.3" stroke-linejoin="round">2.08.88</text>
<text transform="translate(1880.8,221) rotate(-97) scale(1.000,1.200)" font-family="Liberation Sans" font-size="14" text-anchor="middle" y="5" fill="#1c1c1c" font-style="italic" textLength="44" lengthAdjust="spacingAndGlyphs" stroke="#1c1c1c" stroke-width="0.2" stroke-linejoin="round">NO; O</text>
<text transform="translate(1814.2,666) rotate(-88.6) scale(1.000,1.250)" font-family="Liberation Sans" font-size="17" text-anchor="middle" y="6.1" fill="#1c1c1c" font-style="italic" textLength="17" lengthAdjust="spacingAndGlyphs" stroke="#1c1c1c" stroke-width="0.2" stroke-linejoin="round">h—</text>
<text transform="translate(1815.2,629.5) rotate(-88.6) scale(1.000,1.250)" font-family="Liberation Sans" font-size="17" text-anchor="middle" y="6.1" fill="#1c1c1c" font-style="italic" textLength="44" lengthAdjust="spacingAndGlyphs" stroke="#1c1c1c" stroke-width="0.2" stroke-linejoin="round">studio</text>
<text transform="translate(1817.5,549.8) rotate(-88.6) scale(1.000,1.250)" font-family="Liberation Sans" font-size="17" text-anchor="middle" y="6.1" fill="#1c1c1c" font-style="italic" textLength="101" lengthAdjust="spacingAndGlyphs" stroke="#1c1c1c" stroke-width="0.2" stroke-linejoin="round">spécialement</text>
<text transform="translate(1820.5,450.6) rotate(-88.6) scale(1.000,1.250)" font-family="Liberation Sans" font-size="17" text-anchor="middle" y="6.1" fill="#1c1c1c" font-style="italic" textLength="80" lengthAdjust="spacingAndGlyphs" stroke="#1c1c1c" stroke-width="0.2" stroke-linejoin="round">aménagé</text>
<text transform="translate(1836.8,623.4) rotate(-88.6) scale(1.000,1.250)" font-family="Liberation Sans" font-size="17" text-anchor="middle" y="6.1" fill="#1c1c1c" font-style="italic" textLength="29" lengthAdjust="spacingAndGlyphs" stroke="#1c1c1c" stroke-width="0.2" stroke-linejoin="round">pour</text>
<text transform="translate(1837.8,593.6) rotate(-88.6) scale(1.000,1.250)" font-family="Liberation Sans" font-size="17" text-anchor="middle" y="6.1" fill="#1c1c1c" font-style="italic" textLength="13.5" lengthAdjust="spacingAndGlyphs" stroke="#1c1c1c" stroke-width="0.2" stroke-linejoin="round">les</text>
<text transform="translate(1839.5,528.5) rotate(-88.6) scale(1.000,1.250)" font-family="Liberation Sans" font-size="17" text-anchor="middle" y="6.1" fill="#1c1c1c" font-style="italic" textLength="100" lengthAdjust="spacingAndGlyphs" stroke="#1c1c1c" stroke-width="0.2" stroke-linejoin="round">handicapés</text>
<text transform="translate(428,636.8) rotate(-89.3) scale(1.000,1.020)" font-family="Liberation Serif" font-size="33" text-anchor="middle" y="10.9" fill="#222" textLength="223.5" lengthAdjust="spacingAndGlyphs" stroke="#222" stroke-width="0.4" stroke-linejoin="round">Façade Bellecôte</text>
<text transform="translate(1378,668.5) rotate(-89.3) scale(1.000,1.020)" font-family="Liberation Serif" font-size="33.6" text-anchor="middle" y="11.1" fill="#222" textLength="259.5" lengthAdjust="spacingAndGlyphs" stroke="#222" stroke-width="0.4" stroke-linejoin="round">Façade Mont Blanc</text>
<path d="M164.4,342.3 Q164.8,324.3 182.8,324.9 L348.7,330.6 Q366.7,331.2 366.3,349.2 L354.2,918.2 Q353.8,936.2 335.8,935.4 L169,928.1 Q151,927.3 151.4,909.3 Z" fill="none" stroke="#5a5a5a" stroke-width="2.8"/>
<text transform="translate(190,633.6) rotate(-88.7) scale(1,1.09)" font-family="Liberation Serif" font-weight="bold" font-size="52" text-anchor="middle" y="17.2" fill="#262626" stroke="#fff" stroke-width="0.5">Résidence</text>
<text transform="translate(246.2,627.7) rotate(-88.7) scale(1,1.08)" font-family="Liberation Serif" font-weight="bold" font-size="53.6" text-anchor="middle" y="17.7" fill="#262626" stroke="#fff" stroke-width="0.5">AIGUILLE GRIVE II</text>
<text transform="translate(300.6,628.8) rotate(-88.7) scale(1,1.085)" font-family="Liberation Serif" font-weight="bold" font-size="52.4" text-anchor="middle" y="17.3" fill="#262626" stroke="#fff" stroke-width="0.5">ARC 1800</text>
<circle cx="122" cy="37" r="1.2" fill="#666"/>
<circle cx="219" cy="209" r="1" fill="#666"/>
<circle cx="212" cy="205" r="0.8" fill="#666"/>
<circle cx="1521" cy="58" r="0.8" fill="#666"/>
<circle cx="1231" cy="604" r="0.8" fill="#666"/>
<circle cx="1197" cy="966" r="1" fill="#666"/>
<circle cx="1000" cy="1248" r="0.9" fill="#666"/>
<circle cx="1262" cy="1176" r="0.8" fill="#666"/>
<circle cx="741" cy="1132" r="0.8" fill="#666"/>
</g>
</svg>
</body></html>
